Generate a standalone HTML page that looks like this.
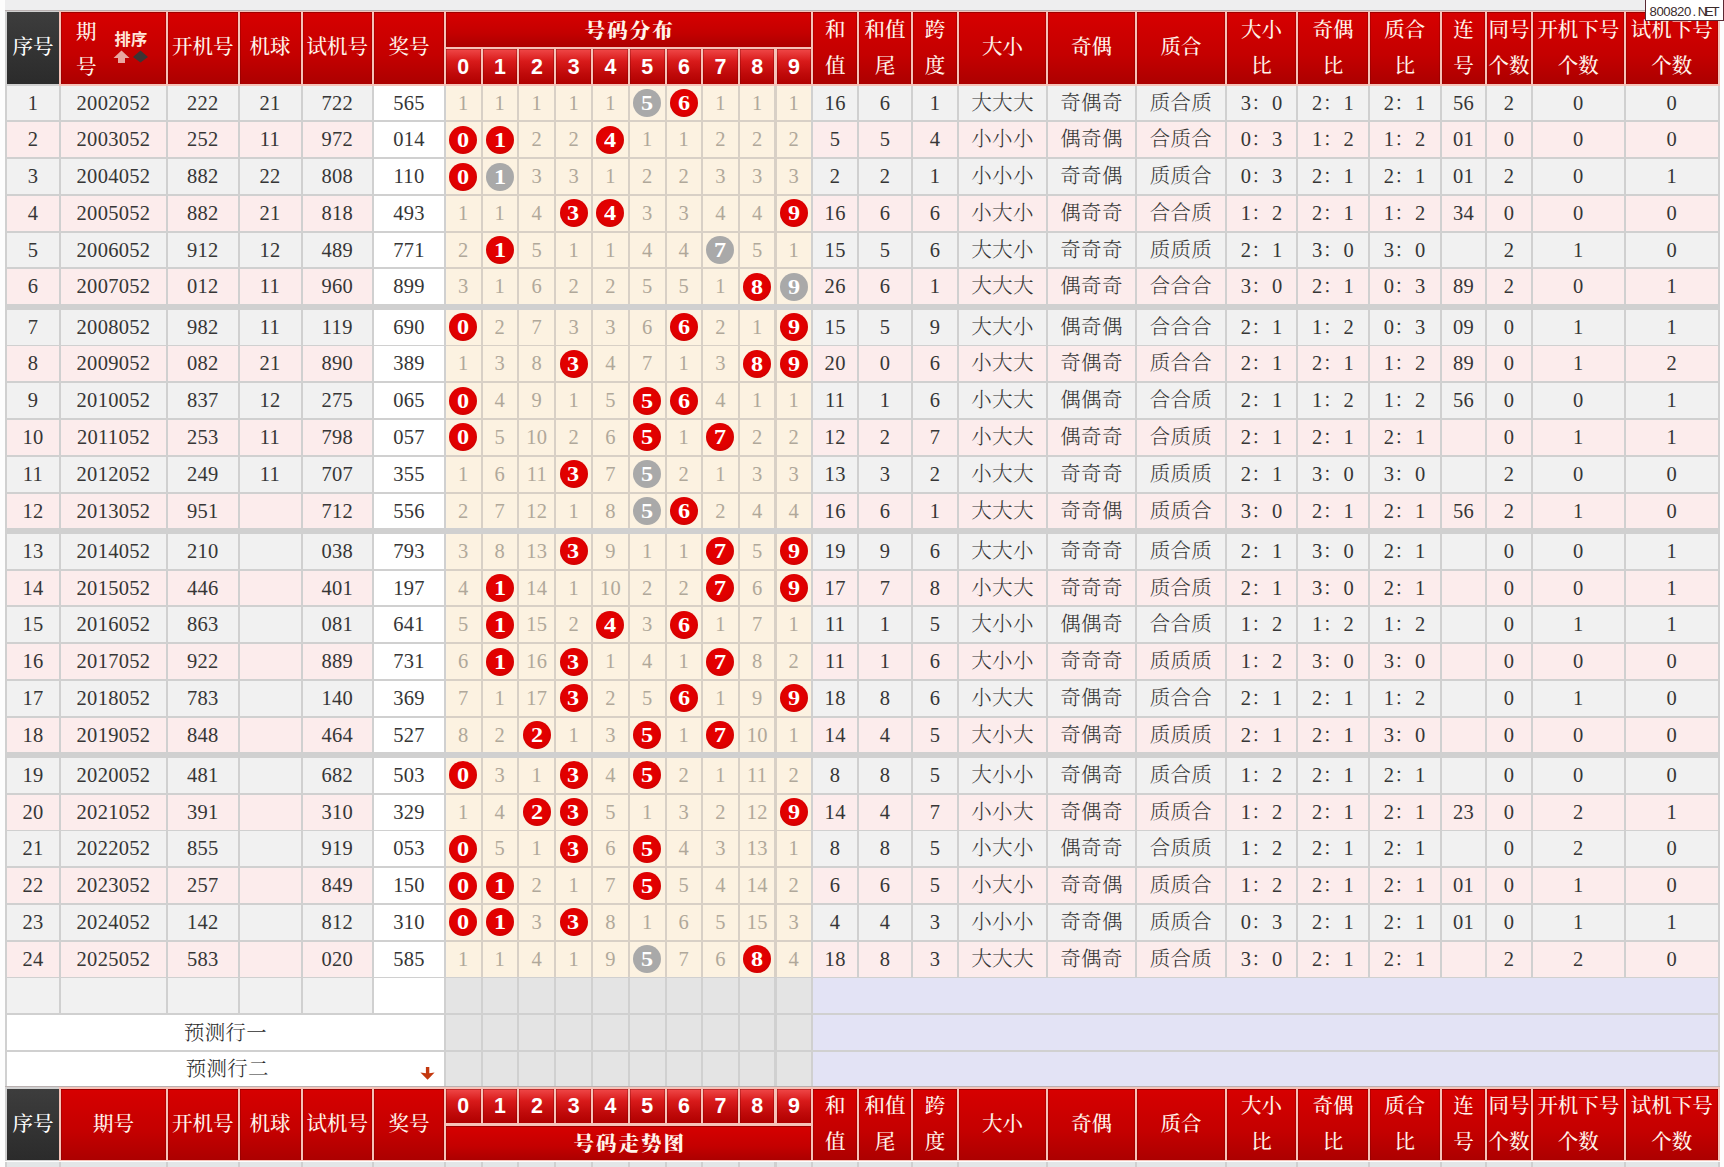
<!DOCTYPE html>
<html><head><meta charset="utf-8"><title>号码走势图</title><style>
*{margin:0;padding:0;box-sizing:border-box}
html,body{width:1724px;height:1167px;overflow:hidden;background:#fdfdfd}
body{position:relative;font-family:"Liberation Serif","Noto Serif CJK SC",serif}
div{position:absolute;text-align:center;white-space:nowrap;overflow:hidden}
.topband{left:5px;top:0;width:1719px;height:10px;background:#eeeeef}
.gline{background:#d0d0d0}
.tline{background:#b9b0b0}
.hbg{background:#f6c2b8}
.gbg{background:#d0d0d0}
.warm{background:#d8d0c6}
.bot{background:#e3e6e7}
.hk{background:linear-gradient(#3d3d3d,#2b2b2b);color:#fff;font-size:20.5px;font-weight:500}
.hr{box-shadow:inset 0 1px 0 rgba(110,0,0,.55),inset 1px 0 0 rgba(110,0,0,.3),inset -1px 0 0 rgba(110,0,0,.3);background:linear-gradient(#d70000 0%,#c40000 60%,#ac0000 100%);color:#fff3ea;font-size:20.5px;font-weight:500}
.hb{font-weight:900;font-size:20.5px;letter-spacing:2px;padding-top:2px;padding-left:2px}
.two{display:flex;flex-direction:column;justify-content:center;align-items:center}
.hl{display:block;line-height:36px;height:36px}
.hn{box-shadow:inset 0 1px 0 rgba(110,0,0,.35),inset 1px 0 0 rgba(110,0,0,.3),inset -1px 0 0 rgba(110,0,0,.3);background:linear-gradient(#f04848 0%,#d81a1a 35%,#c00a0a 70%,#b00000 100%);color:#fff;font-family:"Liberation Sans",sans-serif;font-weight:bold;font-size:21.4px}
.c{color:#363636;font-size:20.5px;letter-spacing:0.3px;font-weight:300}
.ro{background:#f1f1f1}
.re{background:#fcecec}
.rw{background:#ffffff}
.rd{background:#fcf2e1}
.miss{color:#b0a89a}
.eg{background:#e4e4e4}
.lav{background:#e3e3f5}
.pred{color:#2c2c2c;padding-top:1.3px}
.ball{position:absolute;left:50%;top:50%;width:28px;height:28px;margin:-14px 0 0 -14px;border-radius:50%;line-height:28px;color:#fff;font-weight:bold;font-size:20.5px}
.ball b{display:inline-block;transform:scaleX(1.18)}
.red{background:radial-gradient(circle at 48% 45%,#e80000 0%,#df0000 55%,#c80000 85%,#b80000 100%)}
.gry{background:#a9a9a9}
.qi1{position:absolute;left:15px;top:8px;line-height:24px;font-size:20.5px}
.qi2{position:absolute;left:15px;top:43px;line-height:24px;font-size:20.5px}
.px{position:absolute;left:53.5px;top:16.5px;line-height:20px;font-size:16.3px;font-weight:bold;color:#ffe6da;font-family:"Liberation Sans","Noto Sans CJK SC",sans-serif;letter-spacing:0.3px}
.arr{position:absolute;left:52px;top:38px}
.darr{position:absolute}
.wm{left:1645px;top:-1px;width:79px;height:22px;background:#fff;border:1px solid #5a2a34;font-family:"Liberation Sans",sans-serif;font-size:13.2px;line-height:20px;color:#3a2a2a;text-align:left;padding-left:3.5px;padding-top:2px}
.wm i{display:inline-block;width:6.9px;text-align:center;font-style:normal}
</style></head>
<body><div class="topband"></div>
<div class="hbg" style="left:5px;top:10px;width:1715px;height:75.6px"></div>
<div class="gline" style="left:5px;top:10px;width:54px;height:75.6px"></div>
<div class="tline" style="left:5px;top:10px;width:1715px;height:1px"></div>
<div class="hk" style="left:7.00px;top:12.00px;width:52.00px;height:71.60px;line-height:71.60px;">序号</div>
<div class="hr" style="left:61.00px;top:12.00px;width:105.00px;height:71.60px;"><span class="qi1">期</span><span class="qi2">号</span><span class="px">排序</span><svg class="arr" width="38" height="14" viewBox="0 0 38 14"><path d="M8.5 0.5 L16.5 8 L12 8 L12 13 L5 13 L5 8 L0.5 8 Z" fill="#e8a6a0"/><path d="M27.5 0.5 L35 7 L27.5 12.5 L20 7 Z" fill="#3c3434"/></svg></div>
<div class="hr" style="left:168.00px;top:12.00px;width:69.50px;height:71.60px;line-height:71.60px;">开机号</div>
<div class="hr" style="left:239.50px;top:12.00px;width:61.00px;height:71.60px;line-height:71.60px;">机球</div>
<div class="hr" style="left:302.50px;top:12.00px;width:69.50px;height:71.60px;line-height:71.60px;">试机号</div>
<div class="hr" style="left:374.00px;top:12.00px;width:70.00px;height:71.60px;line-height:71.60px;">奖号</div>
<div class="hr two" style="left:813.30px;top:12.00px;width:43.70px;height:71.60px;"><span class="hl">和</span><span class="hl">值</span></div>
<div class="hr two" style="left:859.00px;top:12.00px;width:52.20px;height:71.60px;"><span class="hl">和值</span><span class="hl">尾</span></div>
<div class="hr two" style="left:913.20px;top:12.00px;width:43.80px;height:71.60px;"><span class="hl">跨</span><span class="hl">度</span></div>
<div class="hr" style="left:959.00px;top:12.00px;width:87.00px;height:71.60px;line-height:71.60px;">大小</div>
<div class="hr" style="left:1048.00px;top:12.00px;width:87.00px;height:71.60px;line-height:71.60px;">奇偶</div>
<div class="hr" style="left:1137.00px;top:12.00px;width:87.80px;height:71.60px;line-height:71.60px;">质合</div>
<div class="hr two" style="left:1226.80px;top:12.00px;width:69.60px;height:71.60px;"><span class="hl">大小</span><span class="hl">比</span></div>
<div class="hr two" style="left:1298.40px;top:12.00px;width:69.30px;height:71.60px;"><span class="hl">奇偶</span><span class="hl">比</span></div>
<div class="hr two" style="left:1369.70px;top:12.00px;width:70.00px;height:71.60px;"><span class="hl">质合</span><span class="hl">比</span></div>
<div class="hr two" style="left:1441.70px;top:12.00px;width:43.60px;height:71.60px;"><span class="hl">连</span><span class="hl">号</span></div>
<div class="hr two" style="left:1487.30px;top:12.00px;width:43.60px;height:71.60px;"><span class="hl">同号</span><span class="hl">个数</span></div>
<div class="hr two" style="left:1532.90px;top:12.00px;width:90.80px;height:71.60px;"><span class="hl">开机下号</span><span class="hl">个数</span></div>
<div class="hr two" style="left:1625.70px;top:12.00px;width:92.30px;height:71.60px;"><span class="hl">试机下号</span><span class="hl">个数</span></div>
<div class="hr hb" style="left:446.00px;top:12.00px;width:365.30px;height:34.70px;line-height:34.70px;">号码分布</div>
<div class="hn" style="left:446.00px;top:49.30px;width:34.50px;height:34.30px;line-height:34.30px;padding-top:1px">0</div>
<div class="hn" style="left:482.50px;top:49.30px;width:34.80px;height:34.30px;line-height:34.30px;padding-top:1px">1</div>
<div class="hn" style="left:519.30px;top:49.30px;width:35.10px;height:34.30px;line-height:34.30px;padding-top:1px">2</div>
<div class="hn" style="left:556.40px;top:49.30px;width:34.60px;height:34.30px;line-height:34.30px;padding-top:1px">3</div>
<div class="hn" style="left:593.00px;top:49.30px;width:34.90px;height:34.30px;line-height:34.30px;padding-top:1px">4</div>
<div class="hn" style="left:629.90px;top:49.30px;width:34.70px;height:34.30px;line-height:34.30px;padding-top:1px">5</div>
<div class="hn" style="left:666.60px;top:49.30px;width:34.50px;height:34.30px;line-height:34.30px;padding-top:1px">6</div>
<div class="hn" style="left:703.10px;top:49.30px;width:34.80px;height:34.30px;line-height:34.30px;padding-top:1px">7</div>
<div class="hn" style="left:739.90px;top:49.30px;width:34.60px;height:34.30px;line-height:34.30px;padding-top:1px">8</div>
<div class="hn" style="left:776.50px;top:49.30px;width:34.80px;height:34.30px;line-height:34.30px;padding-top:1px">9</div>
<div class="gbg" style="left:5px;top:85.6px;width:1715px;height:1003.40px"></div>
<div class="warm" style="left:446.00px;top:85.60px;width:365.30px;height:218.65px"></div>
<div class="warm" style="left:446.00px;top:309.70px;width:365.30px;height:218.65px"></div>
<div class="warm" style="left:446.00px;top:533.80px;width:365.30px;height:218.65px"></div>
<div class="warm" style="left:446.00px;top:757.90px;width:365.30px;height:218.65px"></div>
<div class="c ro" style="left:7.00px;top:85.60px;width:52.00px;height:34.85px;line-height:34.85px;">1</div>
<div class="c ro" style="left:61.00px;top:85.60px;width:105.00px;height:34.85px;line-height:34.85px;">2002052</div>
<div class="c ro" style="left:168.00px;top:85.60px;width:69.50px;height:34.85px;line-height:34.85px;">222</div>
<div class="c ro" style="left:239.50px;top:85.60px;width:61.00px;height:34.85px;line-height:34.85px;">21</div>
<div class="c ro" style="left:302.50px;top:85.60px;width:69.50px;height:34.85px;line-height:34.85px;">722</div>
<div class="c rw" style="left:374.00px;top:85.60px;width:70.00px;height:34.85px;line-height:34.85px;">565</div>
<div class="c rd miss" style="left:446.00px;top:85.60px;width:34.50px;height:34.85px;line-height:34.85px;">1</div>
<div class="c rd miss" style="left:482.50px;top:85.60px;width:34.80px;height:34.85px;line-height:34.85px;">1</div>
<div class="c rd miss" style="left:519.30px;top:85.60px;width:35.10px;height:34.85px;line-height:34.85px;">1</div>
<div class="c rd miss" style="left:556.40px;top:85.60px;width:34.60px;height:34.85px;line-height:34.85px;">1</div>
<div class="c rd miss" style="left:593.00px;top:85.60px;width:34.90px;height:34.85px;line-height:34.85px;">1</div>
<div class="c rd" style="left:629.90px;top:85.60px;width:34.70px;height:34.85px;line-height:34.85px;"><span class="ball gry"><b>5</b></span></div>
<div class="c rd" style="left:666.60px;top:85.60px;width:34.50px;height:34.85px;line-height:34.85px;"><span class="ball red"><b>6</b></span></div>
<div class="c rd miss" style="left:703.10px;top:85.60px;width:34.80px;height:34.85px;line-height:34.85px;">1</div>
<div class="c rd miss" style="left:739.90px;top:85.60px;width:34.60px;height:34.85px;line-height:34.85px;">1</div>
<div class="c rd miss" style="left:776.50px;top:85.60px;width:34.80px;height:34.85px;line-height:34.85px;">1</div>
<div class="c ro" style="left:813.30px;top:85.60px;width:43.70px;height:34.85px;line-height:34.85px;">16</div>
<div class="c ro" style="left:859.00px;top:85.60px;width:52.20px;height:34.85px;line-height:34.85px;">6</div>
<div class="c ro" style="left:913.20px;top:85.60px;width:43.80px;height:34.85px;line-height:34.85px;">1</div>
<div class="c ro" style="left:959.00px;top:85.60px;width:87.00px;height:34.85px;line-height:34.85px;">大大大</div>
<div class="c ro" style="left:1048.00px;top:85.60px;width:87.00px;height:34.85px;line-height:34.85px;">奇偶奇</div>
<div class="c ro" style="left:1137.00px;top:85.60px;width:87.80px;height:34.85px;line-height:34.85px;">质合质</div>
<div class="c ro" style="left:1226.80px;top:85.60px;width:69.60px;height:34.85px;line-height:34.85px;">3：0</div>
<div class="c ro" style="left:1298.40px;top:85.60px;width:69.30px;height:34.85px;line-height:34.85px;">2：1</div>
<div class="c ro" style="left:1369.70px;top:85.60px;width:70.00px;height:34.85px;line-height:34.85px;">2：1</div>
<div class="c ro" style="left:1441.70px;top:85.60px;width:43.60px;height:34.85px;line-height:34.85px;">56</div>
<div class="c ro" style="left:1487.30px;top:85.60px;width:43.60px;height:34.85px;line-height:34.85px;">2</div>
<div class="c ro" style="left:1532.90px;top:85.60px;width:90.80px;height:34.85px;line-height:34.85px;">0</div>
<div class="c ro" style="left:1625.70px;top:85.60px;width:92.30px;height:34.85px;line-height:34.85px;">0</div>
<div class="c re" style="left:7.00px;top:122.36px;width:52.00px;height:34.85px;line-height:34.85px;">2</div>
<div class="c re" style="left:61.00px;top:122.36px;width:105.00px;height:34.85px;line-height:34.85px;">2003052</div>
<div class="c re" style="left:168.00px;top:122.36px;width:69.50px;height:34.85px;line-height:34.85px;">252</div>
<div class="c re" style="left:239.50px;top:122.36px;width:61.00px;height:34.85px;line-height:34.85px;">11</div>
<div class="c re" style="left:302.50px;top:122.36px;width:69.50px;height:34.85px;line-height:34.85px;">972</div>
<div class="c rw" style="left:374.00px;top:122.36px;width:70.00px;height:34.85px;line-height:34.85px;">014</div>
<div class="c rd" style="left:446.00px;top:122.36px;width:34.50px;height:34.85px;line-height:34.85px;"><span class="ball red"><b>0</b></span></div>
<div class="c rd" style="left:482.50px;top:122.36px;width:34.80px;height:34.85px;line-height:34.85px;"><span class="ball red"><b>1</b></span></div>
<div class="c rd miss" style="left:519.30px;top:122.36px;width:35.10px;height:34.85px;line-height:34.85px;">2</div>
<div class="c rd miss" style="left:556.40px;top:122.36px;width:34.60px;height:34.85px;line-height:34.85px;">2</div>
<div class="c rd" style="left:593.00px;top:122.36px;width:34.90px;height:34.85px;line-height:34.85px;"><span class="ball red"><b>4</b></span></div>
<div class="c rd miss" style="left:629.90px;top:122.36px;width:34.70px;height:34.85px;line-height:34.85px;">1</div>
<div class="c rd miss" style="left:666.60px;top:122.36px;width:34.50px;height:34.85px;line-height:34.85px;">1</div>
<div class="c rd miss" style="left:703.10px;top:122.36px;width:34.80px;height:34.85px;line-height:34.85px;">2</div>
<div class="c rd miss" style="left:739.90px;top:122.36px;width:34.60px;height:34.85px;line-height:34.85px;">2</div>
<div class="c rd miss" style="left:776.50px;top:122.36px;width:34.80px;height:34.85px;line-height:34.85px;">2</div>
<div class="c re" style="left:813.30px;top:122.36px;width:43.70px;height:34.85px;line-height:34.85px;">5</div>
<div class="c re" style="left:859.00px;top:122.36px;width:52.20px;height:34.85px;line-height:34.85px;">5</div>
<div class="c re" style="left:913.20px;top:122.36px;width:43.80px;height:34.85px;line-height:34.85px;">4</div>
<div class="c re" style="left:959.00px;top:122.36px;width:87.00px;height:34.85px;line-height:34.85px;">小小小</div>
<div class="c re" style="left:1048.00px;top:122.36px;width:87.00px;height:34.85px;line-height:34.85px;">偶奇偶</div>
<div class="c re" style="left:1137.00px;top:122.36px;width:87.80px;height:34.85px;line-height:34.85px;">合质合</div>
<div class="c re" style="left:1226.80px;top:122.36px;width:69.60px;height:34.85px;line-height:34.85px;">0：3</div>
<div class="c re" style="left:1298.40px;top:122.36px;width:69.30px;height:34.85px;line-height:34.85px;">1：2</div>
<div class="c re" style="left:1369.70px;top:122.36px;width:70.00px;height:34.85px;line-height:34.85px;">1：2</div>
<div class="c re" style="left:1441.70px;top:122.36px;width:43.60px;height:34.85px;line-height:34.85px;">01</div>
<div class="c re" style="left:1487.30px;top:122.36px;width:43.60px;height:34.85px;line-height:34.85px;">0</div>
<div class="c re" style="left:1532.90px;top:122.36px;width:90.80px;height:34.85px;line-height:34.85px;">0</div>
<div class="c re" style="left:1625.70px;top:122.36px;width:92.30px;height:34.85px;line-height:34.85px;">0</div>
<div class="c ro" style="left:7.00px;top:159.12px;width:52.00px;height:34.85px;line-height:34.85px;">3</div>
<div class="c ro" style="left:61.00px;top:159.12px;width:105.00px;height:34.85px;line-height:34.85px;">2004052</div>
<div class="c ro" style="left:168.00px;top:159.12px;width:69.50px;height:34.85px;line-height:34.85px;">882</div>
<div class="c ro" style="left:239.50px;top:159.12px;width:61.00px;height:34.85px;line-height:34.85px;">22</div>
<div class="c ro" style="left:302.50px;top:159.12px;width:69.50px;height:34.85px;line-height:34.85px;">808</div>
<div class="c rw" style="left:374.00px;top:159.12px;width:70.00px;height:34.85px;line-height:34.85px;">110</div>
<div class="c rd" style="left:446.00px;top:159.12px;width:34.50px;height:34.85px;line-height:34.85px;"><span class="ball red"><b>0</b></span></div>
<div class="c rd" style="left:482.50px;top:159.12px;width:34.80px;height:34.85px;line-height:34.85px;"><span class="ball gry"><b>1</b></span></div>
<div class="c rd miss" style="left:519.30px;top:159.12px;width:35.10px;height:34.85px;line-height:34.85px;">3</div>
<div class="c rd miss" style="left:556.40px;top:159.12px;width:34.60px;height:34.85px;line-height:34.85px;">3</div>
<div class="c rd miss" style="left:593.00px;top:159.12px;width:34.90px;height:34.85px;line-height:34.85px;">1</div>
<div class="c rd miss" style="left:629.90px;top:159.12px;width:34.70px;height:34.85px;line-height:34.85px;">2</div>
<div class="c rd miss" style="left:666.60px;top:159.12px;width:34.50px;height:34.85px;line-height:34.85px;">2</div>
<div class="c rd miss" style="left:703.10px;top:159.12px;width:34.80px;height:34.85px;line-height:34.85px;">3</div>
<div class="c rd miss" style="left:739.90px;top:159.12px;width:34.60px;height:34.85px;line-height:34.85px;">3</div>
<div class="c rd miss" style="left:776.50px;top:159.12px;width:34.80px;height:34.85px;line-height:34.85px;">3</div>
<div class="c ro" style="left:813.30px;top:159.12px;width:43.70px;height:34.85px;line-height:34.85px;">2</div>
<div class="c ro" style="left:859.00px;top:159.12px;width:52.20px;height:34.85px;line-height:34.85px;">2</div>
<div class="c ro" style="left:913.20px;top:159.12px;width:43.80px;height:34.85px;line-height:34.85px;">1</div>
<div class="c ro" style="left:959.00px;top:159.12px;width:87.00px;height:34.85px;line-height:34.85px;">小小小</div>
<div class="c ro" style="left:1048.00px;top:159.12px;width:87.00px;height:34.85px;line-height:34.85px;">奇奇偶</div>
<div class="c ro" style="left:1137.00px;top:159.12px;width:87.80px;height:34.85px;line-height:34.85px;">质质合</div>
<div class="c ro" style="left:1226.80px;top:159.12px;width:69.60px;height:34.85px;line-height:34.85px;">0：3</div>
<div class="c ro" style="left:1298.40px;top:159.12px;width:69.30px;height:34.85px;line-height:34.85px;">2：1</div>
<div class="c ro" style="left:1369.70px;top:159.12px;width:70.00px;height:34.85px;line-height:34.85px;">2：1</div>
<div class="c ro" style="left:1441.70px;top:159.12px;width:43.60px;height:34.85px;line-height:34.85px;">01</div>
<div class="c ro" style="left:1487.30px;top:159.12px;width:43.60px;height:34.85px;line-height:34.85px;">2</div>
<div class="c ro" style="left:1532.90px;top:159.12px;width:90.80px;height:34.85px;line-height:34.85px;">0</div>
<div class="c ro" style="left:1625.70px;top:159.12px;width:92.30px;height:34.85px;line-height:34.85px;">1</div>
<div class="c re" style="left:7.00px;top:195.88px;width:52.00px;height:34.85px;line-height:34.85px;">4</div>
<div class="c re" style="left:61.00px;top:195.88px;width:105.00px;height:34.85px;line-height:34.85px;">2005052</div>
<div class="c re" style="left:168.00px;top:195.88px;width:69.50px;height:34.85px;line-height:34.85px;">882</div>
<div class="c re" style="left:239.50px;top:195.88px;width:61.00px;height:34.85px;line-height:34.85px;">21</div>
<div class="c re" style="left:302.50px;top:195.88px;width:69.50px;height:34.85px;line-height:34.85px;">818</div>
<div class="c rw" style="left:374.00px;top:195.88px;width:70.00px;height:34.85px;line-height:34.85px;">493</div>
<div class="c rd miss" style="left:446.00px;top:195.88px;width:34.50px;height:34.85px;line-height:34.85px;">1</div>
<div class="c rd miss" style="left:482.50px;top:195.88px;width:34.80px;height:34.85px;line-height:34.85px;">1</div>
<div class="c rd miss" style="left:519.30px;top:195.88px;width:35.10px;height:34.85px;line-height:34.85px;">4</div>
<div class="c rd" style="left:556.40px;top:195.88px;width:34.60px;height:34.85px;line-height:34.85px;"><span class="ball red"><b>3</b></span></div>
<div class="c rd" style="left:593.00px;top:195.88px;width:34.90px;height:34.85px;line-height:34.85px;"><span class="ball red"><b>4</b></span></div>
<div class="c rd miss" style="left:629.90px;top:195.88px;width:34.70px;height:34.85px;line-height:34.85px;">3</div>
<div class="c rd miss" style="left:666.60px;top:195.88px;width:34.50px;height:34.85px;line-height:34.85px;">3</div>
<div class="c rd miss" style="left:703.10px;top:195.88px;width:34.80px;height:34.85px;line-height:34.85px;">4</div>
<div class="c rd miss" style="left:739.90px;top:195.88px;width:34.60px;height:34.85px;line-height:34.85px;">4</div>
<div class="c rd" style="left:776.50px;top:195.88px;width:34.80px;height:34.85px;line-height:34.85px;"><span class="ball red"><b>9</b></span></div>
<div class="c re" style="left:813.30px;top:195.88px;width:43.70px;height:34.85px;line-height:34.85px;">16</div>
<div class="c re" style="left:859.00px;top:195.88px;width:52.20px;height:34.85px;line-height:34.85px;">6</div>
<div class="c re" style="left:913.20px;top:195.88px;width:43.80px;height:34.85px;line-height:34.85px;">6</div>
<div class="c re" style="left:959.00px;top:195.88px;width:87.00px;height:34.85px;line-height:34.85px;">小大小</div>
<div class="c re" style="left:1048.00px;top:195.88px;width:87.00px;height:34.85px;line-height:34.85px;">偶奇奇</div>
<div class="c re" style="left:1137.00px;top:195.88px;width:87.80px;height:34.85px;line-height:34.85px;">合合质</div>
<div class="c re" style="left:1226.80px;top:195.88px;width:69.60px;height:34.85px;line-height:34.85px;">1：2</div>
<div class="c re" style="left:1298.40px;top:195.88px;width:69.30px;height:34.85px;line-height:34.85px;">2：1</div>
<div class="c re" style="left:1369.70px;top:195.88px;width:70.00px;height:34.85px;line-height:34.85px;">1：2</div>
<div class="c re" style="left:1441.70px;top:195.88px;width:43.60px;height:34.85px;line-height:34.85px;">34</div>
<div class="c re" style="left:1487.30px;top:195.88px;width:43.60px;height:34.85px;line-height:34.85px;">0</div>
<div class="c re" style="left:1532.90px;top:195.88px;width:90.80px;height:34.85px;line-height:34.85px;">0</div>
<div class="c re" style="left:1625.70px;top:195.88px;width:92.30px;height:34.85px;line-height:34.85px;">0</div>
<div class="c ro" style="left:7.00px;top:232.64px;width:52.00px;height:34.85px;line-height:34.85px;">5</div>
<div class="c ro" style="left:61.00px;top:232.64px;width:105.00px;height:34.85px;line-height:34.85px;">2006052</div>
<div class="c ro" style="left:168.00px;top:232.64px;width:69.50px;height:34.85px;line-height:34.85px;">912</div>
<div class="c ro" style="left:239.50px;top:232.64px;width:61.00px;height:34.85px;line-height:34.85px;">12</div>
<div class="c ro" style="left:302.50px;top:232.64px;width:69.50px;height:34.85px;line-height:34.85px;">489</div>
<div class="c rw" style="left:374.00px;top:232.64px;width:70.00px;height:34.85px;line-height:34.85px;">771</div>
<div class="c rd miss" style="left:446.00px;top:232.64px;width:34.50px;height:34.85px;line-height:34.85px;">2</div>
<div class="c rd" style="left:482.50px;top:232.64px;width:34.80px;height:34.85px;line-height:34.85px;"><span class="ball red"><b>1</b></span></div>
<div class="c rd miss" style="left:519.30px;top:232.64px;width:35.10px;height:34.85px;line-height:34.85px;">5</div>
<div class="c rd miss" style="left:556.40px;top:232.64px;width:34.60px;height:34.85px;line-height:34.85px;">1</div>
<div class="c rd miss" style="left:593.00px;top:232.64px;width:34.90px;height:34.85px;line-height:34.85px;">1</div>
<div class="c rd miss" style="left:629.90px;top:232.64px;width:34.70px;height:34.85px;line-height:34.85px;">4</div>
<div class="c rd miss" style="left:666.60px;top:232.64px;width:34.50px;height:34.85px;line-height:34.85px;">4</div>
<div class="c rd" style="left:703.10px;top:232.64px;width:34.80px;height:34.85px;line-height:34.85px;"><span class="ball gry"><b>7</b></span></div>
<div class="c rd miss" style="left:739.90px;top:232.64px;width:34.60px;height:34.85px;line-height:34.85px;">5</div>
<div class="c rd miss" style="left:776.50px;top:232.64px;width:34.80px;height:34.85px;line-height:34.85px;">1</div>
<div class="c ro" style="left:813.30px;top:232.64px;width:43.70px;height:34.85px;line-height:34.85px;">15</div>
<div class="c ro" style="left:859.00px;top:232.64px;width:52.20px;height:34.85px;line-height:34.85px;">5</div>
<div class="c ro" style="left:913.20px;top:232.64px;width:43.80px;height:34.85px;line-height:34.85px;">6</div>
<div class="c ro" style="left:959.00px;top:232.64px;width:87.00px;height:34.85px;line-height:34.85px;">大大小</div>
<div class="c ro" style="left:1048.00px;top:232.64px;width:87.00px;height:34.85px;line-height:34.85px;">奇奇奇</div>
<div class="c ro" style="left:1137.00px;top:232.64px;width:87.80px;height:34.85px;line-height:34.85px;">质质质</div>
<div class="c ro" style="left:1226.80px;top:232.64px;width:69.60px;height:34.85px;line-height:34.85px;">2：1</div>
<div class="c ro" style="left:1298.40px;top:232.64px;width:69.30px;height:34.85px;line-height:34.85px;">3：0</div>
<div class="c ro" style="left:1369.70px;top:232.64px;width:70.00px;height:34.85px;line-height:34.85px;">3：0</div>
<div class="c ro" style="left:1441.70px;top:232.64px;width:43.60px;height:34.85px;line-height:34.85px;"></div>
<div class="c ro" style="left:1487.30px;top:232.64px;width:43.60px;height:34.85px;line-height:34.85px;">2</div>
<div class="c ro" style="left:1532.90px;top:232.64px;width:90.80px;height:34.85px;line-height:34.85px;">1</div>
<div class="c ro" style="left:1625.70px;top:232.64px;width:92.30px;height:34.85px;line-height:34.85px;">0</div>
<div class="c re" style="left:7.00px;top:269.40px;width:52.00px;height:34.85px;line-height:34.85px;">6</div>
<div class="c re" style="left:61.00px;top:269.40px;width:105.00px;height:34.85px;line-height:34.85px;">2007052</div>
<div class="c re" style="left:168.00px;top:269.40px;width:69.50px;height:34.85px;line-height:34.85px;">012</div>
<div class="c re" style="left:239.50px;top:269.40px;width:61.00px;height:34.85px;line-height:34.85px;">11</div>
<div class="c re" style="left:302.50px;top:269.40px;width:69.50px;height:34.85px;line-height:34.85px;">960</div>
<div class="c rw" style="left:374.00px;top:269.40px;width:70.00px;height:34.85px;line-height:34.85px;">899</div>
<div class="c rd miss" style="left:446.00px;top:269.40px;width:34.50px;height:34.85px;line-height:34.85px;">3</div>
<div class="c rd miss" style="left:482.50px;top:269.40px;width:34.80px;height:34.85px;line-height:34.85px;">1</div>
<div class="c rd miss" style="left:519.30px;top:269.40px;width:35.10px;height:34.85px;line-height:34.85px;">6</div>
<div class="c rd miss" style="left:556.40px;top:269.40px;width:34.60px;height:34.85px;line-height:34.85px;">2</div>
<div class="c rd miss" style="left:593.00px;top:269.40px;width:34.90px;height:34.85px;line-height:34.85px;">2</div>
<div class="c rd miss" style="left:629.90px;top:269.40px;width:34.70px;height:34.85px;line-height:34.85px;">5</div>
<div class="c rd miss" style="left:666.60px;top:269.40px;width:34.50px;height:34.85px;line-height:34.85px;">5</div>
<div class="c rd miss" style="left:703.10px;top:269.40px;width:34.80px;height:34.85px;line-height:34.85px;">1</div>
<div class="c rd" style="left:739.90px;top:269.40px;width:34.60px;height:34.85px;line-height:34.85px;"><span class="ball red"><b>8</b></span></div>
<div class="c rd" style="left:776.50px;top:269.40px;width:34.80px;height:34.85px;line-height:34.85px;"><span class="ball gry"><b>9</b></span></div>
<div class="c re" style="left:813.30px;top:269.40px;width:43.70px;height:34.85px;line-height:34.85px;">26</div>
<div class="c re" style="left:859.00px;top:269.40px;width:52.20px;height:34.85px;line-height:34.85px;">6</div>
<div class="c re" style="left:913.20px;top:269.40px;width:43.80px;height:34.85px;line-height:34.85px;">1</div>
<div class="c re" style="left:959.00px;top:269.40px;width:87.00px;height:34.85px;line-height:34.85px;">大大大</div>
<div class="c re" style="left:1048.00px;top:269.40px;width:87.00px;height:34.85px;line-height:34.85px;">偶奇奇</div>
<div class="c re" style="left:1137.00px;top:269.40px;width:87.80px;height:34.85px;line-height:34.85px;">合合合</div>
<div class="c re" style="left:1226.80px;top:269.40px;width:69.60px;height:34.85px;line-height:34.85px;">3：0</div>
<div class="c re" style="left:1298.40px;top:269.40px;width:69.30px;height:34.85px;line-height:34.85px;">2：1</div>
<div class="c re" style="left:1369.70px;top:269.40px;width:70.00px;height:34.85px;line-height:34.85px;">0：3</div>
<div class="c re" style="left:1441.70px;top:269.40px;width:43.60px;height:34.85px;line-height:34.85px;">89</div>
<div class="c re" style="left:1487.30px;top:269.40px;width:43.60px;height:34.85px;line-height:34.85px;">2</div>
<div class="c re" style="left:1532.90px;top:269.40px;width:90.80px;height:34.85px;line-height:34.85px;">0</div>
<div class="c re" style="left:1625.70px;top:269.40px;width:92.30px;height:34.85px;line-height:34.85px;">1</div>
<div class="c ro" style="left:7.00px;top:309.70px;width:52.00px;height:34.85px;line-height:34.85px;">7</div>
<div class="c ro" style="left:61.00px;top:309.70px;width:105.00px;height:34.85px;line-height:34.85px;">2008052</div>
<div class="c ro" style="left:168.00px;top:309.70px;width:69.50px;height:34.85px;line-height:34.85px;">982</div>
<div class="c ro" style="left:239.50px;top:309.70px;width:61.00px;height:34.85px;line-height:34.85px;">11</div>
<div class="c ro" style="left:302.50px;top:309.70px;width:69.50px;height:34.85px;line-height:34.85px;">119</div>
<div class="c rw" style="left:374.00px;top:309.70px;width:70.00px;height:34.85px;line-height:34.85px;">690</div>
<div class="c rd" style="left:446.00px;top:309.70px;width:34.50px;height:34.85px;line-height:34.85px;"><span class="ball red"><b>0</b></span></div>
<div class="c rd miss" style="left:482.50px;top:309.70px;width:34.80px;height:34.85px;line-height:34.85px;">2</div>
<div class="c rd miss" style="left:519.30px;top:309.70px;width:35.10px;height:34.85px;line-height:34.85px;">7</div>
<div class="c rd miss" style="left:556.40px;top:309.70px;width:34.60px;height:34.85px;line-height:34.85px;">3</div>
<div class="c rd miss" style="left:593.00px;top:309.70px;width:34.90px;height:34.85px;line-height:34.85px;">3</div>
<div class="c rd miss" style="left:629.90px;top:309.70px;width:34.70px;height:34.85px;line-height:34.85px;">6</div>
<div class="c rd" style="left:666.60px;top:309.70px;width:34.50px;height:34.85px;line-height:34.85px;"><span class="ball red"><b>6</b></span></div>
<div class="c rd miss" style="left:703.10px;top:309.70px;width:34.80px;height:34.85px;line-height:34.85px;">2</div>
<div class="c rd miss" style="left:739.90px;top:309.70px;width:34.60px;height:34.85px;line-height:34.85px;">1</div>
<div class="c rd" style="left:776.50px;top:309.70px;width:34.80px;height:34.85px;line-height:34.85px;"><span class="ball red"><b>9</b></span></div>
<div class="c ro" style="left:813.30px;top:309.70px;width:43.70px;height:34.85px;line-height:34.85px;">15</div>
<div class="c ro" style="left:859.00px;top:309.70px;width:52.20px;height:34.85px;line-height:34.85px;">5</div>
<div class="c ro" style="left:913.20px;top:309.70px;width:43.80px;height:34.85px;line-height:34.85px;">9</div>
<div class="c ro" style="left:959.00px;top:309.70px;width:87.00px;height:34.85px;line-height:34.85px;">大大小</div>
<div class="c ro" style="left:1048.00px;top:309.70px;width:87.00px;height:34.85px;line-height:34.85px;">偶奇偶</div>
<div class="c ro" style="left:1137.00px;top:309.70px;width:87.80px;height:34.85px;line-height:34.85px;">合合合</div>
<div class="c ro" style="left:1226.80px;top:309.70px;width:69.60px;height:34.85px;line-height:34.85px;">2：1</div>
<div class="c ro" style="left:1298.40px;top:309.70px;width:69.30px;height:34.85px;line-height:34.85px;">1：2</div>
<div class="c ro" style="left:1369.70px;top:309.70px;width:70.00px;height:34.85px;line-height:34.85px;">0：3</div>
<div class="c ro" style="left:1441.70px;top:309.70px;width:43.60px;height:34.85px;line-height:34.85px;">09</div>
<div class="c ro" style="left:1487.30px;top:309.70px;width:43.60px;height:34.85px;line-height:34.85px;">0</div>
<div class="c ro" style="left:1532.90px;top:309.70px;width:90.80px;height:34.85px;line-height:34.85px;">1</div>
<div class="c ro" style="left:1625.70px;top:309.70px;width:92.30px;height:34.85px;line-height:34.85px;">1</div>
<div class="c re" style="left:7.00px;top:346.46px;width:52.00px;height:34.85px;line-height:34.85px;">8</div>
<div class="c re" style="left:61.00px;top:346.46px;width:105.00px;height:34.85px;line-height:34.85px;">2009052</div>
<div class="c re" style="left:168.00px;top:346.46px;width:69.50px;height:34.85px;line-height:34.85px;">082</div>
<div class="c re" style="left:239.50px;top:346.46px;width:61.00px;height:34.85px;line-height:34.85px;">21</div>
<div class="c re" style="left:302.50px;top:346.46px;width:69.50px;height:34.85px;line-height:34.85px;">890</div>
<div class="c rw" style="left:374.00px;top:346.46px;width:70.00px;height:34.85px;line-height:34.85px;">389</div>
<div class="c rd miss" style="left:446.00px;top:346.46px;width:34.50px;height:34.85px;line-height:34.85px;">1</div>
<div class="c rd miss" style="left:482.50px;top:346.46px;width:34.80px;height:34.85px;line-height:34.85px;">3</div>
<div class="c rd miss" style="left:519.30px;top:346.46px;width:35.10px;height:34.85px;line-height:34.85px;">8</div>
<div class="c rd" style="left:556.40px;top:346.46px;width:34.60px;height:34.85px;line-height:34.85px;"><span class="ball red"><b>3</b></span></div>
<div class="c rd miss" style="left:593.00px;top:346.46px;width:34.90px;height:34.85px;line-height:34.85px;">4</div>
<div class="c rd miss" style="left:629.90px;top:346.46px;width:34.70px;height:34.85px;line-height:34.85px;">7</div>
<div class="c rd miss" style="left:666.60px;top:346.46px;width:34.50px;height:34.85px;line-height:34.85px;">1</div>
<div class="c rd miss" style="left:703.10px;top:346.46px;width:34.80px;height:34.85px;line-height:34.85px;">3</div>
<div class="c rd" style="left:739.90px;top:346.46px;width:34.60px;height:34.85px;line-height:34.85px;"><span class="ball red"><b>8</b></span></div>
<div class="c rd" style="left:776.50px;top:346.46px;width:34.80px;height:34.85px;line-height:34.85px;"><span class="ball red"><b>9</b></span></div>
<div class="c re" style="left:813.30px;top:346.46px;width:43.70px;height:34.85px;line-height:34.85px;">20</div>
<div class="c re" style="left:859.00px;top:346.46px;width:52.20px;height:34.85px;line-height:34.85px;">0</div>
<div class="c re" style="left:913.20px;top:346.46px;width:43.80px;height:34.85px;line-height:34.85px;">6</div>
<div class="c re" style="left:959.00px;top:346.46px;width:87.00px;height:34.85px;line-height:34.85px;">小大大</div>
<div class="c re" style="left:1048.00px;top:346.46px;width:87.00px;height:34.85px;line-height:34.85px;">奇偶奇</div>
<div class="c re" style="left:1137.00px;top:346.46px;width:87.80px;height:34.85px;line-height:34.85px;">质合合</div>
<div class="c re" style="left:1226.80px;top:346.46px;width:69.60px;height:34.85px;line-height:34.85px;">2：1</div>
<div class="c re" style="left:1298.40px;top:346.46px;width:69.30px;height:34.85px;line-height:34.85px;">2：1</div>
<div class="c re" style="left:1369.70px;top:346.46px;width:70.00px;height:34.85px;line-height:34.85px;">1：2</div>
<div class="c re" style="left:1441.70px;top:346.46px;width:43.60px;height:34.85px;line-height:34.85px;">89</div>
<div class="c re" style="left:1487.30px;top:346.46px;width:43.60px;height:34.85px;line-height:34.85px;">0</div>
<div class="c re" style="left:1532.90px;top:346.46px;width:90.80px;height:34.85px;line-height:34.85px;">1</div>
<div class="c re" style="left:1625.70px;top:346.46px;width:92.30px;height:34.85px;line-height:34.85px;">2</div>
<div class="c ro" style="left:7.00px;top:383.22px;width:52.00px;height:34.85px;line-height:34.85px;">9</div>
<div class="c ro" style="left:61.00px;top:383.22px;width:105.00px;height:34.85px;line-height:34.85px;">2010052</div>
<div class="c ro" style="left:168.00px;top:383.22px;width:69.50px;height:34.85px;line-height:34.85px;">837</div>
<div class="c ro" style="left:239.50px;top:383.22px;width:61.00px;height:34.85px;line-height:34.85px;">12</div>
<div class="c ro" style="left:302.50px;top:383.22px;width:69.50px;height:34.85px;line-height:34.85px;">275</div>
<div class="c rw" style="left:374.00px;top:383.22px;width:70.00px;height:34.85px;line-height:34.85px;">065</div>
<div class="c rd" style="left:446.00px;top:383.22px;width:34.50px;height:34.85px;line-height:34.85px;"><span class="ball red"><b>0</b></span></div>
<div class="c rd miss" style="left:482.50px;top:383.22px;width:34.80px;height:34.85px;line-height:34.85px;">4</div>
<div class="c rd miss" style="left:519.30px;top:383.22px;width:35.10px;height:34.85px;line-height:34.85px;">9</div>
<div class="c rd miss" style="left:556.40px;top:383.22px;width:34.60px;height:34.85px;line-height:34.85px;">1</div>
<div class="c rd miss" style="left:593.00px;top:383.22px;width:34.90px;height:34.85px;line-height:34.85px;">5</div>
<div class="c rd" style="left:629.90px;top:383.22px;width:34.70px;height:34.85px;line-height:34.85px;"><span class="ball red"><b>5</b></span></div>
<div class="c rd" style="left:666.60px;top:383.22px;width:34.50px;height:34.85px;line-height:34.85px;"><span class="ball red"><b>6</b></span></div>
<div class="c rd miss" style="left:703.10px;top:383.22px;width:34.80px;height:34.85px;line-height:34.85px;">4</div>
<div class="c rd miss" style="left:739.90px;top:383.22px;width:34.60px;height:34.85px;line-height:34.85px;">1</div>
<div class="c rd miss" style="left:776.50px;top:383.22px;width:34.80px;height:34.85px;line-height:34.85px;">1</div>
<div class="c ro" style="left:813.30px;top:383.22px;width:43.70px;height:34.85px;line-height:34.85px;">11</div>
<div class="c ro" style="left:859.00px;top:383.22px;width:52.20px;height:34.85px;line-height:34.85px;">1</div>
<div class="c ro" style="left:913.20px;top:383.22px;width:43.80px;height:34.85px;line-height:34.85px;">6</div>
<div class="c ro" style="left:959.00px;top:383.22px;width:87.00px;height:34.85px;line-height:34.85px;">小大大</div>
<div class="c ro" style="left:1048.00px;top:383.22px;width:87.00px;height:34.85px;line-height:34.85px;">偶偶奇</div>
<div class="c ro" style="left:1137.00px;top:383.22px;width:87.80px;height:34.85px;line-height:34.85px;">合合质</div>
<div class="c ro" style="left:1226.80px;top:383.22px;width:69.60px;height:34.85px;line-height:34.85px;">2：1</div>
<div class="c ro" style="left:1298.40px;top:383.22px;width:69.30px;height:34.85px;line-height:34.85px;">1：2</div>
<div class="c ro" style="left:1369.70px;top:383.22px;width:70.00px;height:34.85px;line-height:34.85px;">1：2</div>
<div class="c ro" style="left:1441.70px;top:383.22px;width:43.60px;height:34.85px;line-height:34.85px;">56</div>
<div class="c ro" style="left:1487.30px;top:383.22px;width:43.60px;height:34.85px;line-height:34.85px;">0</div>
<div class="c ro" style="left:1532.90px;top:383.22px;width:90.80px;height:34.85px;line-height:34.85px;">0</div>
<div class="c ro" style="left:1625.70px;top:383.22px;width:92.30px;height:34.85px;line-height:34.85px;">1</div>
<div class="c re" style="left:7.00px;top:419.98px;width:52.00px;height:34.85px;line-height:34.85px;">10</div>
<div class="c re" style="left:61.00px;top:419.98px;width:105.00px;height:34.85px;line-height:34.85px;">2011052</div>
<div class="c re" style="left:168.00px;top:419.98px;width:69.50px;height:34.85px;line-height:34.85px;">253</div>
<div class="c re" style="left:239.50px;top:419.98px;width:61.00px;height:34.85px;line-height:34.85px;">11</div>
<div class="c re" style="left:302.50px;top:419.98px;width:69.50px;height:34.85px;line-height:34.85px;">798</div>
<div class="c rw" style="left:374.00px;top:419.98px;width:70.00px;height:34.85px;line-height:34.85px;">057</div>
<div class="c rd" style="left:446.00px;top:419.98px;width:34.50px;height:34.85px;line-height:34.85px;"><span class="ball red"><b>0</b></span></div>
<div class="c rd miss" style="left:482.50px;top:419.98px;width:34.80px;height:34.85px;line-height:34.85px;">5</div>
<div class="c rd miss" style="left:519.30px;top:419.98px;width:35.10px;height:34.85px;line-height:34.85px;">10</div>
<div class="c rd miss" style="left:556.40px;top:419.98px;width:34.60px;height:34.85px;line-height:34.85px;">2</div>
<div class="c rd miss" style="left:593.00px;top:419.98px;width:34.90px;height:34.85px;line-height:34.85px;">6</div>
<div class="c rd" style="left:629.90px;top:419.98px;width:34.70px;height:34.85px;line-height:34.85px;"><span class="ball red"><b>5</b></span></div>
<div class="c rd miss" style="left:666.60px;top:419.98px;width:34.50px;height:34.85px;line-height:34.85px;">1</div>
<div class="c rd" style="left:703.10px;top:419.98px;width:34.80px;height:34.85px;line-height:34.85px;"><span class="ball red"><b>7</b></span></div>
<div class="c rd miss" style="left:739.90px;top:419.98px;width:34.60px;height:34.85px;line-height:34.85px;">2</div>
<div class="c rd miss" style="left:776.50px;top:419.98px;width:34.80px;height:34.85px;line-height:34.85px;">2</div>
<div class="c re" style="left:813.30px;top:419.98px;width:43.70px;height:34.85px;line-height:34.85px;">12</div>
<div class="c re" style="left:859.00px;top:419.98px;width:52.20px;height:34.85px;line-height:34.85px;">2</div>
<div class="c re" style="left:913.20px;top:419.98px;width:43.80px;height:34.85px;line-height:34.85px;">7</div>
<div class="c re" style="left:959.00px;top:419.98px;width:87.00px;height:34.85px;line-height:34.85px;">小大大</div>
<div class="c re" style="left:1048.00px;top:419.98px;width:87.00px;height:34.85px;line-height:34.85px;">偶奇奇</div>
<div class="c re" style="left:1137.00px;top:419.98px;width:87.80px;height:34.85px;line-height:34.85px;">合质质</div>
<div class="c re" style="left:1226.80px;top:419.98px;width:69.60px;height:34.85px;line-height:34.85px;">2：1</div>
<div class="c re" style="left:1298.40px;top:419.98px;width:69.30px;height:34.85px;line-height:34.85px;">2：1</div>
<div class="c re" style="left:1369.70px;top:419.98px;width:70.00px;height:34.85px;line-height:34.85px;">2：1</div>
<div class="c re" style="left:1441.70px;top:419.98px;width:43.60px;height:34.85px;line-height:34.85px;"></div>
<div class="c re" style="left:1487.30px;top:419.98px;width:43.60px;height:34.85px;line-height:34.85px;">0</div>
<div class="c re" style="left:1532.90px;top:419.98px;width:90.80px;height:34.85px;line-height:34.85px;">1</div>
<div class="c re" style="left:1625.70px;top:419.98px;width:92.30px;height:34.85px;line-height:34.85px;">1</div>
<div class="c ro" style="left:7.00px;top:456.74px;width:52.00px;height:34.85px;line-height:34.85px;">11</div>
<div class="c ro" style="left:61.00px;top:456.74px;width:105.00px;height:34.85px;line-height:34.85px;">2012052</div>
<div class="c ro" style="left:168.00px;top:456.74px;width:69.50px;height:34.85px;line-height:34.85px;">249</div>
<div class="c ro" style="left:239.50px;top:456.74px;width:61.00px;height:34.85px;line-height:34.85px;">11</div>
<div class="c ro" style="left:302.50px;top:456.74px;width:69.50px;height:34.85px;line-height:34.85px;">707</div>
<div class="c rw" style="left:374.00px;top:456.74px;width:70.00px;height:34.85px;line-height:34.85px;">355</div>
<div class="c rd miss" style="left:446.00px;top:456.74px;width:34.50px;height:34.85px;line-height:34.85px;">1</div>
<div class="c rd miss" style="left:482.50px;top:456.74px;width:34.80px;height:34.85px;line-height:34.85px;">6</div>
<div class="c rd miss" style="left:519.30px;top:456.74px;width:35.10px;height:34.85px;line-height:34.85px;">11</div>
<div class="c rd" style="left:556.40px;top:456.74px;width:34.60px;height:34.85px;line-height:34.85px;"><span class="ball red"><b>3</b></span></div>
<div class="c rd miss" style="left:593.00px;top:456.74px;width:34.90px;height:34.85px;line-height:34.85px;">7</div>
<div class="c rd" style="left:629.90px;top:456.74px;width:34.70px;height:34.85px;line-height:34.85px;"><span class="ball gry"><b>5</b></span></div>
<div class="c rd miss" style="left:666.60px;top:456.74px;width:34.50px;height:34.85px;line-height:34.85px;">2</div>
<div class="c rd miss" style="left:703.10px;top:456.74px;width:34.80px;height:34.85px;line-height:34.85px;">1</div>
<div class="c rd miss" style="left:739.90px;top:456.74px;width:34.60px;height:34.85px;line-height:34.85px;">3</div>
<div class="c rd miss" style="left:776.50px;top:456.74px;width:34.80px;height:34.85px;line-height:34.85px;">3</div>
<div class="c ro" style="left:813.30px;top:456.74px;width:43.70px;height:34.85px;line-height:34.85px;">13</div>
<div class="c ro" style="left:859.00px;top:456.74px;width:52.20px;height:34.85px;line-height:34.85px;">3</div>
<div class="c ro" style="left:913.20px;top:456.74px;width:43.80px;height:34.85px;line-height:34.85px;">2</div>
<div class="c ro" style="left:959.00px;top:456.74px;width:87.00px;height:34.85px;line-height:34.85px;">小大大</div>
<div class="c ro" style="left:1048.00px;top:456.74px;width:87.00px;height:34.85px;line-height:34.85px;">奇奇奇</div>
<div class="c ro" style="left:1137.00px;top:456.74px;width:87.80px;height:34.85px;line-height:34.85px;">质质质</div>
<div class="c ro" style="left:1226.80px;top:456.74px;width:69.60px;height:34.85px;line-height:34.85px;">2：1</div>
<div class="c ro" style="left:1298.40px;top:456.74px;width:69.30px;height:34.85px;line-height:34.85px;">3：0</div>
<div class="c ro" style="left:1369.70px;top:456.74px;width:70.00px;height:34.85px;line-height:34.85px;">3：0</div>
<div class="c ro" style="left:1441.70px;top:456.74px;width:43.60px;height:34.85px;line-height:34.85px;"></div>
<div class="c ro" style="left:1487.30px;top:456.74px;width:43.60px;height:34.85px;line-height:34.85px;">2</div>
<div class="c ro" style="left:1532.90px;top:456.74px;width:90.80px;height:34.85px;line-height:34.85px;">0</div>
<div class="c ro" style="left:1625.70px;top:456.74px;width:92.30px;height:34.85px;line-height:34.85px;">0</div>
<div class="c re" style="left:7.00px;top:493.50px;width:52.00px;height:34.85px;line-height:34.85px;">12</div>
<div class="c re" style="left:61.00px;top:493.50px;width:105.00px;height:34.85px;line-height:34.85px;">2013052</div>
<div class="c re" style="left:168.00px;top:493.50px;width:69.50px;height:34.85px;line-height:34.85px;">951</div>
<div class="c re" style="left:239.50px;top:493.50px;width:61.00px;height:34.85px;line-height:34.85px;"></div>
<div class="c re" style="left:302.50px;top:493.50px;width:69.50px;height:34.85px;line-height:34.85px;">712</div>
<div class="c rw" style="left:374.00px;top:493.50px;width:70.00px;height:34.85px;line-height:34.85px;">556</div>
<div class="c rd miss" style="left:446.00px;top:493.50px;width:34.50px;height:34.85px;line-height:34.85px;">2</div>
<div class="c rd miss" style="left:482.50px;top:493.50px;width:34.80px;height:34.85px;line-height:34.85px;">7</div>
<div class="c rd miss" style="left:519.30px;top:493.50px;width:35.10px;height:34.85px;line-height:34.85px;">12</div>
<div class="c rd miss" style="left:556.40px;top:493.50px;width:34.60px;height:34.85px;line-height:34.85px;">1</div>
<div class="c rd miss" style="left:593.00px;top:493.50px;width:34.90px;height:34.85px;line-height:34.85px;">8</div>
<div class="c rd" style="left:629.90px;top:493.50px;width:34.70px;height:34.85px;line-height:34.85px;"><span class="ball gry"><b>5</b></span></div>
<div class="c rd" style="left:666.60px;top:493.50px;width:34.50px;height:34.85px;line-height:34.85px;"><span class="ball red"><b>6</b></span></div>
<div class="c rd miss" style="left:703.10px;top:493.50px;width:34.80px;height:34.85px;line-height:34.85px;">2</div>
<div class="c rd miss" style="left:739.90px;top:493.50px;width:34.60px;height:34.85px;line-height:34.85px;">4</div>
<div class="c rd miss" style="left:776.50px;top:493.50px;width:34.80px;height:34.85px;line-height:34.85px;">4</div>
<div class="c re" style="left:813.30px;top:493.50px;width:43.70px;height:34.85px;line-height:34.85px;">16</div>
<div class="c re" style="left:859.00px;top:493.50px;width:52.20px;height:34.85px;line-height:34.85px;">6</div>
<div class="c re" style="left:913.20px;top:493.50px;width:43.80px;height:34.85px;line-height:34.85px;">1</div>
<div class="c re" style="left:959.00px;top:493.50px;width:87.00px;height:34.85px;line-height:34.85px;">大大大</div>
<div class="c re" style="left:1048.00px;top:493.50px;width:87.00px;height:34.85px;line-height:34.85px;">奇奇偶</div>
<div class="c re" style="left:1137.00px;top:493.50px;width:87.80px;height:34.85px;line-height:34.85px;">质质合</div>
<div class="c re" style="left:1226.80px;top:493.50px;width:69.60px;height:34.85px;line-height:34.85px;">3：0</div>
<div class="c re" style="left:1298.40px;top:493.50px;width:69.30px;height:34.85px;line-height:34.85px;">2：1</div>
<div class="c re" style="left:1369.70px;top:493.50px;width:70.00px;height:34.85px;line-height:34.85px;">2：1</div>
<div class="c re" style="left:1441.70px;top:493.50px;width:43.60px;height:34.85px;line-height:34.85px;">56</div>
<div class="c re" style="left:1487.30px;top:493.50px;width:43.60px;height:34.85px;line-height:34.85px;">2</div>
<div class="c re" style="left:1532.90px;top:493.50px;width:90.80px;height:34.85px;line-height:34.85px;">1</div>
<div class="c re" style="left:1625.70px;top:493.50px;width:92.30px;height:34.85px;line-height:34.85px;">0</div>
<div class="c ro" style="left:7.00px;top:533.80px;width:52.00px;height:34.85px;line-height:34.85px;">13</div>
<div class="c ro" style="left:61.00px;top:533.80px;width:105.00px;height:34.85px;line-height:34.85px;">2014052</div>
<div class="c ro" style="left:168.00px;top:533.80px;width:69.50px;height:34.85px;line-height:34.85px;">210</div>
<div class="c ro" style="left:239.50px;top:533.80px;width:61.00px;height:34.85px;line-height:34.85px;"></div>
<div class="c ro" style="left:302.50px;top:533.80px;width:69.50px;height:34.85px;line-height:34.85px;">038</div>
<div class="c rw" style="left:374.00px;top:533.80px;width:70.00px;height:34.85px;line-height:34.85px;">793</div>
<div class="c rd miss" style="left:446.00px;top:533.80px;width:34.50px;height:34.85px;line-height:34.85px;">3</div>
<div class="c rd miss" style="left:482.50px;top:533.80px;width:34.80px;height:34.85px;line-height:34.85px;">8</div>
<div class="c rd miss" style="left:519.30px;top:533.80px;width:35.10px;height:34.85px;line-height:34.85px;">13</div>
<div class="c rd" style="left:556.40px;top:533.80px;width:34.60px;height:34.85px;line-height:34.85px;"><span class="ball red"><b>3</b></span></div>
<div class="c rd miss" style="left:593.00px;top:533.80px;width:34.90px;height:34.85px;line-height:34.85px;">9</div>
<div class="c rd miss" style="left:629.90px;top:533.80px;width:34.70px;height:34.85px;line-height:34.85px;">1</div>
<div class="c rd miss" style="left:666.60px;top:533.80px;width:34.50px;height:34.85px;line-height:34.85px;">1</div>
<div class="c rd" style="left:703.10px;top:533.80px;width:34.80px;height:34.85px;line-height:34.85px;"><span class="ball red"><b>7</b></span></div>
<div class="c rd miss" style="left:739.90px;top:533.80px;width:34.60px;height:34.85px;line-height:34.85px;">5</div>
<div class="c rd" style="left:776.50px;top:533.80px;width:34.80px;height:34.85px;line-height:34.85px;"><span class="ball red"><b>9</b></span></div>
<div class="c ro" style="left:813.30px;top:533.80px;width:43.70px;height:34.85px;line-height:34.85px;">19</div>
<div class="c ro" style="left:859.00px;top:533.80px;width:52.20px;height:34.85px;line-height:34.85px;">9</div>
<div class="c ro" style="left:913.20px;top:533.80px;width:43.80px;height:34.85px;line-height:34.85px;">6</div>
<div class="c ro" style="left:959.00px;top:533.80px;width:87.00px;height:34.85px;line-height:34.85px;">大大小</div>
<div class="c ro" style="left:1048.00px;top:533.80px;width:87.00px;height:34.85px;line-height:34.85px;">奇奇奇</div>
<div class="c ro" style="left:1137.00px;top:533.80px;width:87.80px;height:34.85px;line-height:34.85px;">质合质</div>
<div class="c ro" style="left:1226.80px;top:533.80px;width:69.60px;height:34.85px;line-height:34.85px;">2：1</div>
<div class="c ro" style="left:1298.40px;top:533.80px;width:69.30px;height:34.85px;line-height:34.85px;">3：0</div>
<div class="c ro" style="left:1369.70px;top:533.80px;width:70.00px;height:34.85px;line-height:34.85px;">2：1</div>
<div class="c ro" style="left:1441.70px;top:533.80px;width:43.60px;height:34.85px;line-height:34.85px;"></div>
<div class="c ro" style="left:1487.30px;top:533.80px;width:43.60px;height:34.85px;line-height:34.85px;">0</div>
<div class="c ro" style="left:1532.90px;top:533.80px;width:90.80px;height:34.85px;line-height:34.85px;">0</div>
<div class="c ro" style="left:1625.70px;top:533.80px;width:92.30px;height:34.85px;line-height:34.85px;">1</div>
<div class="c re" style="left:7.00px;top:570.56px;width:52.00px;height:34.85px;line-height:34.85px;">14</div>
<div class="c re" style="left:61.00px;top:570.56px;width:105.00px;height:34.85px;line-height:34.85px;">2015052</div>
<div class="c re" style="left:168.00px;top:570.56px;width:69.50px;height:34.85px;line-height:34.85px;">446</div>
<div class="c re" style="left:239.50px;top:570.56px;width:61.00px;height:34.85px;line-height:34.85px;"></div>
<div class="c re" style="left:302.50px;top:570.56px;width:69.50px;height:34.85px;line-height:34.85px;">401</div>
<div class="c rw" style="left:374.00px;top:570.56px;width:70.00px;height:34.85px;line-height:34.85px;">197</div>
<div class="c rd miss" style="left:446.00px;top:570.56px;width:34.50px;height:34.85px;line-height:34.85px;">4</div>
<div class="c rd" style="left:482.50px;top:570.56px;width:34.80px;height:34.85px;line-height:34.85px;"><span class="ball red"><b>1</b></span></div>
<div class="c rd miss" style="left:519.30px;top:570.56px;width:35.10px;height:34.85px;line-height:34.85px;">14</div>
<div class="c rd miss" style="left:556.40px;top:570.56px;width:34.60px;height:34.85px;line-height:34.85px;">1</div>
<div class="c rd miss" style="left:593.00px;top:570.56px;width:34.90px;height:34.85px;line-height:34.85px;">10</div>
<div class="c rd miss" style="left:629.90px;top:570.56px;width:34.70px;height:34.85px;line-height:34.85px;">2</div>
<div class="c rd miss" style="left:666.60px;top:570.56px;width:34.50px;height:34.85px;line-height:34.85px;">2</div>
<div class="c rd" style="left:703.10px;top:570.56px;width:34.80px;height:34.85px;line-height:34.85px;"><span class="ball red"><b>7</b></span></div>
<div class="c rd miss" style="left:739.90px;top:570.56px;width:34.60px;height:34.85px;line-height:34.85px;">6</div>
<div class="c rd" style="left:776.50px;top:570.56px;width:34.80px;height:34.85px;line-height:34.85px;"><span class="ball red"><b>9</b></span></div>
<div class="c re" style="left:813.30px;top:570.56px;width:43.70px;height:34.85px;line-height:34.85px;">17</div>
<div class="c re" style="left:859.00px;top:570.56px;width:52.20px;height:34.85px;line-height:34.85px;">7</div>
<div class="c re" style="left:913.20px;top:570.56px;width:43.80px;height:34.85px;line-height:34.85px;">8</div>
<div class="c re" style="left:959.00px;top:570.56px;width:87.00px;height:34.85px;line-height:34.85px;">小大大</div>
<div class="c re" style="left:1048.00px;top:570.56px;width:87.00px;height:34.85px;line-height:34.85px;">奇奇奇</div>
<div class="c re" style="left:1137.00px;top:570.56px;width:87.80px;height:34.85px;line-height:34.85px;">质合质</div>
<div class="c re" style="left:1226.80px;top:570.56px;width:69.60px;height:34.85px;line-height:34.85px;">2：1</div>
<div class="c re" style="left:1298.40px;top:570.56px;width:69.30px;height:34.85px;line-height:34.85px;">3：0</div>
<div class="c re" style="left:1369.70px;top:570.56px;width:70.00px;height:34.85px;line-height:34.85px;">2：1</div>
<div class="c re" style="left:1441.70px;top:570.56px;width:43.60px;height:34.85px;line-height:34.85px;"></div>
<div class="c re" style="left:1487.30px;top:570.56px;width:43.60px;height:34.85px;line-height:34.85px;">0</div>
<div class="c re" style="left:1532.90px;top:570.56px;width:90.80px;height:34.85px;line-height:34.85px;">0</div>
<div class="c re" style="left:1625.70px;top:570.56px;width:92.30px;height:34.85px;line-height:34.85px;">1</div>
<div class="c ro" style="left:7.00px;top:607.32px;width:52.00px;height:34.85px;line-height:34.85px;">15</div>
<div class="c ro" style="left:61.00px;top:607.32px;width:105.00px;height:34.85px;line-height:34.85px;">2016052</div>
<div class="c ro" style="left:168.00px;top:607.32px;width:69.50px;height:34.85px;line-height:34.85px;">863</div>
<div class="c ro" style="left:239.50px;top:607.32px;width:61.00px;height:34.85px;line-height:34.85px;"></div>
<div class="c ro" style="left:302.50px;top:607.32px;width:69.50px;height:34.85px;line-height:34.85px;">081</div>
<div class="c rw" style="left:374.00px;top:607.32px;width:70.00px;height:34.85px;line-height:34.85px;">641</div>
<div class="c rd miss" style="left:446.00px;top:607.32px;width:34.50px;height:34.85px;line-height:34.85px;">5</div>
<div class="c rd" style="left:482.50px;top:607.32px;width:34.80px;height:34.85px;line-height:34.85px;"><span class="ball red"><b>1</b></span></div>
<div class="c rd miss" style="left:519.30px;top:607.32px;width:35.10px;height:34.85px;line-height:34.85px;">15</div>
<div class="c rd miss" style="left:556.40px;top:607.32px;width:34.60px;height:34.85px;line-height:34.85px;">2</div>
<div class="c rd" style="left:593.00px;top:607.32px;width:34.90px;height:34.85px;line-height:34.85px;"><span class="ball red"><b>4</b></span></div>
<div class="c rd miss" style="left:629.90px;top:607.32px;width:34.70px;height:34.85px;line-height:34.85px;">3</div>
<div class="c rd" style="left:666.60px;top:607.32px;width:34.50px;height:34.85px;line-height:34.85px;"><span class="ball red"><b>6</b></span></div>
<div class="c rd miss" style="left:703.10px;top:607.32px;width:34.80px;height:34.85px;line-height:34.85px;">1</div>
<div class="c rd miss" style="left:739.90px;top:607.32px;width:34.60px;height:34.85px;line-height:34.85px;">7</div>
<div class="c rd miss" style="left:776.50px;top:607.32px;width:34.80px;height:34.85px;line-height:34.85px;">1</div>
<div class="c ro" style="left:813.30px;top:607.32px;width:43.70px;height:34.85px;line-height:34.85px;">11</div>
<div class="c ro" style="left:859.00px;top:607.32px;width:52.20px;height:34.85px;line-height:34.85px;">1</div>
<div class="c ro" style="left:913.20px;top:607.32px;width:43.80px;height:34.85px;line-height:34.85px;">5</div>
<div class="c ro" style="left:959.00px;top:607.32px;width:87.00px;height:34.85px;line-height:34.85px;">大小小</div>
<div class="c ro" style="left:1048.00px;top:607.32px;width:87.00px;height:34.85px;line-height:34.85px;">偶偶奇</div>
<div class="c ro" style="left:1137.00px;top:607.32px;width:87.80px;height:34.85px;line-height:34.85px;">合合质</div>
<div class="c ro" style="left:1226.80px;top:607.32px;width:69.60px;height:34.85px;line-height:34.85px;">1：2</div>
<div class="c ro" style="left:1298.40px;top:607.32px;width:69.30px;height:34.85px;line-height:34.85px;">1：2</div>
<div class="c ro" style="left:1369.70px;top:607.32px;width:70.00px;height:34.85px;line-height:34.85px;">1：2</div>
<div class="c ro" style="left:1441.70px;top:607.32px;width:43.60px;height:34.85px;line-height:34.85px;"></div>
<div class="c ro" style="left:1487.30px;top:607.32px;width:43.60px;height:34.85px;line-height:34.85px;">0</div>
<div class="c ro" style="left:1532.90px;top:607.32px;width:90.80px;height:34.85px;line-height:34.85px;">1</div>
<div class="c ro" style="left:1625.70px;top:607.32px;width:92.30px;height:34.85px;line-height:34.85px;">1</div>
<div class="c re" style="left:7.00px;top:644.08px;width:52.00px;height:34.85px;line-height:34.85px;">16</div>
<div class="c re" style="left:61.00px;top:644.08px;width:105.00px;height:34.85px;line-height:34.85px;">2017052</div>
<div class="c re" style="left:168.00px;top:644.08px;width:69.50px;height:34.85px;line-height:34.85px;">922</div>
<div class="c re" style="left:239.50px;top:644.08px;width:61.00px;height:34.85px;line-height:34.85px;"></div>
<div class="c re" style="left:302.50px;top:644.08px;width:69.50px;height:34.85px;line-height:34.85px;">889</div>
<div class="c rw" style="left:374.00px;top:644.08px;width:70.00px;height:34.85px;line-height:34.85px;">731</div>
<div class="c rd miss" style="left:446.00px;top:644.08px;width:34.50px;height:34.85px;line-height:34.85px;">6</div>
<div class="c rd" style="left:482.50px;top:644.08px;width:34.80px;height:34.85px;line-height:34.85px;"><span class="ball red"><b>1</b></span></div>
<div class="c rd miss" style="left:519.30px;top:644.08px;width:35.10px;height:34.85px;line-height:34.85px;">16</div>
<div class="c rd" style="left:556.40px;top:644.08px;width:34.60px;height:34.85px;line-height:34.85px;"><span class="ball red"><b>3</b></span></div>
<div class="c rd miss" style="left:593.00px;top:644.08px;width:34.90px;height:34.85px;line-height:34.85px;">1</div>
<div class="c rd miss" style="left:629.90px;top:644.08px;width:34.70px;height:34.85px;line-height:34.85px;">4</div>
<div class="c rd miss" style="left:666.60px;top:644.08px;width:34.50px;height:34.85px;line-height:34.85px;">1</div>
<div class="c rd" style="left:703.10px;top:644.08px;width:34.80px;height:34.85px;line-height:34.85px;"><span class="ball red"><b>7</b></span></div>
<div class="c rd miss" style="left:739.90px;top:644.08px;width:34.60px;height:34.85px;line-height:34.85px;">8</div>
<div class="c rd miss" style="left:776.50px;top:644.08px;width:34.80px;height:34.85px;line-height:34.85px;">2</div>
<div class="c re" style="left:813.30px;top:644.08px;width:43.70px;height:34.85px;line-height:34.85px;">11</div>
<div class="c re" style="left:859.00px;top:644.08px;width:52.20px;height:34.85px;line-height:34.85px;">1</div>
<div class="c re" style="left:913.20px;top:644.08px;width:43.80px;height:34.85px;line-height:34.85px;">6</div>
<div class="c re" style="left:959.00px;top:644.08px;width:87.00px;height:34.85px;line-height:34.85px;">大小小</div>
<div class="c re" style="left:1048.00px;top:644.08px;width:87.00px;height:34.85px;line-height:34.85px;">奇奇奇</div>
<div class="c re" style="left:1137.00px;top:644.08px;width:87.80px;height:34.85px;line-height:34.85px;">质质质</div>
<div class="c re" style="left:1226.80px;top:644.08px;width:69.60px;height:34.85px;line-height:34.85px;">1：2</div>
<div class="c re" style="left:1298.40px;top:644.08px;width:69.30px;height:34.85px;line-height:34.85px;">3：0</div>
<div class="c re" style="left:1369.70px;top:644.08px;width:70.00px;height:34.85px;line-height:34.85px;">3：0</div>
<div class="c re" style="left:1441.70px;top:644.08px;width:43.60px;height:34.85px;line-height:34.85px;"></div>
<div class="c re" style="left:1487.30px;top:644.08px;width:43.60px;height:34.85px;line-height:34.85px;">0</div>
<div class="c re" style="left:1532.90px;top:644.08px;width:90.80px;height:34.85px;line-height:34.85px;">0</div>
<div class="c re" style="left:1625.70px;top:644.08px;width:92.30px;height:34.85px;line-height:34.85px;">0</div>
<div class="c ro" style="left:7.00px;top:680.84px;width:52.00px;height:34.85px;line-height:34.85px;">17</div>
<div class="c ro" style="left:61.00px;top:680.84px;width:105.00px;height:34.85px;line-height:34.85px;">2018052</div>
<div class="c ro" style="left:168.00px;top:680.84px;width:69.50px;height:34.85px;line-height:34.85px;">783</div>
<div class="c ro" style="left:239.50px;top:680.84px;width:61.00px;height:34.85px;line-height:34.85px;"></div>
<div class="c ro" style="left:302.50px;top:680.84px;width:69.50px;height:34.85px;line-height:34.85px;">140</div>
<div class="c rw" style="left:374.00px;top:680.84px;width:70.00px;height:34.85px;line-height:34.85px;">369</div>
<div class="c rd miss" style="left:446.00px;top:680.84px;width:34.50px;height:34.85px;line-height:34.85px;">7</div>
<div class="c rd miss" style="left:482.50px;top:680.84px;width:34.80px;height:34.85px;line-height:34.85px;">1</div>
<div class="c rd miss" style="left:519.30px;top:680.84px;width:35.10px;height:34.85px;line-height:34.85px;">17</div>
<div class="c rd" style="left:556.40px;top:680.84px;width:34.60px;height:34.85px;line-height:34.85px;"><span class="ball red"><b>3</b></span></div>
<div class="c rd miss" style="left:593.00px;top:680.84px;width:34.90px;height:34.85px;line-height:34.85px;">2</div>
<div class="c rd miss" style="left:629.90px;top:680.84px;width:34.70px;height:34.85px;line-height:34.85px;">5</div>
<div class="c rd" style="left:666.60px;top:680.84px;width:34.50px;height:34.85px;line-height:34.85px;"><span class="ball red"><b>6</b></span></div>
<div class="c rd miss" style="left:703.10px;top:680.84px;width:34.80px;height:34.85px;line-height:34.85px;">1</div>
<div class="c rd miss" style="left:739.90px;top:680.84px;width:34.60px;height:34.85px;line-height:34.85px;">9</div>
<div class="c rd" style="left:776.50px;top:680.84px;width:34.80px;height:34.85px;line-height:34.85px;"><span class="ball red"><b>9</b></span></div>
<div class="c ro" style="left:813.30px;top:680.84px;width:43.70px;height:34.85px;line-height:34.85px;">18</div>
<div class="c ro" style="left:859.00px;top:680.84px;width:52.20px;height:34.85px;line-height:34.85px;">8</div>
<div class="c ro" style="left:913.20px;top:680.84px;width:43.80px;height:34.85px;line-height:34.85px;">6</div>
<div class="c ro" style="left:959.00px;top:680.84px;width:87.00px;height:34.85px;line-height:34.85px;">小大大</div>
<div class="c ro" style="left:1048.00px;top:680.84px;width:87.00px;height:34.85px;line-height:34.85px;">奇偶奇</div>
<div class="c ro" style="left:1137.00px;top:680.84px;width:87.80px;height:34.85px;line-height:34.85px;">质合合</div>
<div class="c ro" style="left:1226.80px;top:680.84px;width:69.60px;height:34.85px;line-height:34.85px;">2：1</div>
<div class="c ro" style="left:1298.40px;top:680.84px;width:69.30px;height:34.85px;line-height:34.85px;">2：1</div>
<div class="c ro" style="left:1369.70px;top:680.84px;width:70.00px;height:34.85px;line-height:34.85px;">1：2</div>
<div class="c ro" style="left:1441.70px;top:680.84px;width:43.60px;height:34.85px;line-height:34.85px;"></div>
<div class="c ro" style="left:1487.30px;top:680.84px;width:43.60px;height:34.85px;line-height:34.85px;">0</div>
<div class="c ro" style="left:1532.90px;top:680.84px;width:90.80px;height:34.85px;line-height:34.85px;">1</div>
<div class="c ro" style="left:1625.70px;top:680.84px;width:92.30px;height:34.85px;line-height:34.85px;">0</div>
<div class="c re" style="left:7.00px;top:717.60px;width:52.00px;height:34.85px;line-height:34.85px;">18</div>
<div class="c re" style="left:61.00px;top:717.60px;width:105.00px;height:34.85px;line-height:34.85px;">2019052</div>
<div class="c re" style="left:168.00px;top:717.60px;width:69.50px;height:34.85px;line-height:34.85px;">848</div>
<div class="c re" style="left:239.50px;top:717.60px;width:61.00px;height:34.85px;line-height:34.85px;"></div>
<div class="c re" style="left:302.50px;top:717.60px;width:69.50px;height:34.85px;line-height:34.85px;">464</div>
<div class="c rw" style="left:374.00px;top:717.60px;width:70.00px;height:34.85px;line-height:34.85px;">527</div>
<div class="c rd miss" style="left:446.00px;top:717.60px;width:34.50px;height:34.85px;line-height:34.85px;">8</div>
<div class="c rd miss" style="left:482.50px;top:717.60px;width:34.80px;height:34.85px;line-height:34.85px;">2</div>
<div class="c rd" style="left:519.30px;top:717.60px;width:35.10px;height:34.85px;line-height:34.85px;"><span class="ball red"><b>2</b></span></div>
<div class="c rd miss" style="left:556.40px;top:717.60px;width:34.60px;height:34.85px;line-height:34.85px;">1</div>
<div class="c rd miss" style="left:593.00px;top:717.60px;width:34.90px;height:34.85px;line-height:34.85px;">3</div>
<div class="c rd" style="left:629.90px;top:717.60px;width:34.70px;height:34.85px;line-height:34.85px;"><span class="ball red"><b>5</b></span></div>
<div class="c rd miss" style="left:666.60px;top:717.60px;width:34.50px;height:34.85px;line-height:34.85px;">1</div>
<div class="c rd" style="left:703.10px;top:717.60px;width:34.80px;height:34.85px;line-height:34.85px;"><span class="ball red"><b>7</b></span></div>
<div class="c rd miss" style="left:739.90px;top:717.60px;width:34.60px;height:34.85px;line-height:34.85px;">10</div>
<div class="c rd miss" style="left:776.50px;top:717.60px;width:34.80px;height:34.85px;line-height:34.85px;">1</div>
<div class="c re" style="left:813.30px;top:717.60px;width:43.70px;height:34.85px;line-height:34.85px;">14</div>
<div class="c re" style="left:859.00px;top:717.60px;width:52.20px;height:34.85px;line-height:34.85px;">4</div>
<div class="c re" style="left:913.20px;top:717.60px;width:43.80px;height:34.85px;line-height:34.85px;">5</div>
<div class="c re" style="left:959.00px;top:717.60px;width:87.00px;height:34.85px;line-height:34.85px;">大小大</div>
<div class="c re" style="left:1048.00px;top:717.60px;width:87.00px;height:34.85px;line-height:34.85px;">奇偶奇</div>
<div class="c re" style="left:1137.00px;top:717.60px;width:87.80px;height:34.85px;line-height:34.85px;">质质质</div>
<div class="c re" style="left:1226.80px;top:717.60px;width:69.60px;height:34.85px;line-height:34.85px;">2：1</div>
<div class="c re" style="left:1298.40px;top:717.60px;width:69.30px;height:34.85px;line-height:34.85px;">2：1</div>
<div class="c re" style="left:1369.70px;top:717.60px;width:70.00px;height:34.85px;line-height:34.85px;">3：0</div>
<div class="c re" style="left:1441.70px;top:717.60px;width:43.60px;height:34.85px;line-height:34.85px;"></div>
<div class="c re" style="left:1487.30px;top:717.60px;width:43.60px;height:34.85px;line-height:34.85px;">0</div>
<div class="c re" style="left:1532.90px;top:717.60px;width:90.80px;height:34.85px;line-height:34.85px;">0</div>
<div class="c re" style="left:1625.70px;top:717.60px;width:92.30px;height:34.85px;line-height:34.85px;">0</div>
<div class="c ro" style="left:7.00px;top:757.90px;width:52.00px;height:34.85px;line-height:34.85px;">19</div>
<div class="c ro" style="left:61.00px;top:757.90px;width:105.00px;height:34.85px;line-height:34.85px;">2020052</div>
<div class="c ro" style="left:168.00px;top:757.90px;width:69.50px;height:34.85px;line-height:34.85px;">481</div>
<div class="c ro" style="left:239.50px;top:757.90px;width:61.00px;height:34.85px;line-height:34.85px;"></div>
<div class="c ro" style="left:302.50px;top:757.90px;width:69.50px;height:34.85px;line-height:34.85px;">682</div>
<div class="c rw" style="left:374.00px;top:757.90px;width:70.00px;height:34.85px;line-height:34.85px;">503</div>
<div class="c rd" style="left:446.00px;top:757.90px;width:34.50px;height:34.85px;line-height:34.85px;"><span class="ball red"><b>0</b></span></div>
<div class="c rd miss" style="left:482.50px;top:757.90px;width:34.80px;height:34.85px;line-height:34.85px;">3</div>
<div class="c rd miss" style="left:519.30px;top:757.90px;width:35.10px;height:34.85px;line-height:34.85px;">1</div>
<div class="c rd" style="left:556.40px;top:757.90px;width:34.60px;height:34.85px;line-height:34.85px;"><span class="ball red"><b>3</b></span></div>
<div class="c rd miss" style="left:593.00px;top:757.90px;width:34.90px;height:34.85px;line-height:34.85px;">4</div>
<div class="c rd" style="left:629.90px;top:757.90px;width:34.70px;height:34.85px;line-height:34.85px;"><span class="ball red"><b>5</b></span></div>
<div class="c rd miss" style="left:666.60px;top:757.90px;width:34.50px;height:34.85px;line-height:34.85px;">2</div>
<div class="c rd miss" style="left:703.10px;top:757.90px;width:34.80px;height:34.85px;line-height:34.85px;">1</div>
<div class="c rd miss" style="left:739.90px;top:757.90px;width:34.60px;height:34.85px;line-height:34.85px;">11</div>
<div class="c rd miss" style="left:776.50px;top:757.90px;width:34.80px;height:34.85px;line-height:34.85px;">2</div>
<div class="c ro" style="left:813.30px;top:757.90px;width:43.70px;height:34.85px;line-height:34.85px;">8</div>
<div class="c ro" style="left:859.00px;top:757.90px;width:52.20px;height:34.85px;line-height:34.85px;">8</div>
<div class="c ro" style="left:913.20px;top:757.90px;width:43.80px;height:34.85px;line-height:34.85px;">5</div>
<div class="c ro" style="left:959.00px;top:757.90px;width:87.00px;height:34.85px;line-height:34.85px;">大小小</div>
<div class="c ro" style="left:1048.00px;top:757.90px;width:87.00px;height:34.85px;line-height:34.85px;">奇偶奇</div>
<div class="c ro" style="left:1137.00px;top:757.90px;width:87.80px;height:34.85px;line-height:34.85px;">质合质</div>
<div class="c ro" style="left:1226.80px;top:757.90px;width:69.60px;height:34.85px;line-height:34.85px;">1：2</div>
<div class="c ro" style="left:1298.40px;top:757.90px;width:69.30px;height:34.85px;line-height:34.85px;">2：1</div>
<div class="c ro" style="left:1369.70px;top:757.90px;width:70.00px;height:34.85px;line-height:34.85px;">2：1</div>
<div class="c ro" style="left:1441.70px;top:757.90px;width:43.60px;height:34.85px;line-height:34.85px;"></div>
<div class="c ro" style="left:1487.30px;top:757.90px;width:43.60px;height:34.85px;line-height:34.85px;">0</div>
<div class="c ro" style="left:1532.90px;top:757.90px;width:90.80px;height:34.85px;line-height:34.85px;">0</div>
<div class="c ro" style="left:1625.70px;top:757.90px;width:92.30px;height:34.85px;line-height:34.85px;">0</div>
<div class="c re" style="left:7.00px;top:794.66px;width:52.00px;height:34.85px;line-height:34.85px;">20</div>
<div class="c re" style="left:61.00px;top:794.66px;width:105.00px;height:34.85px;line-height:34.85px;">2021052</div>
<div class="c re" style="left:168.00px;top:794.66px;width:69.50px;height:34.85px;line-height:34.85px;">391</div>
<div class="c re" style="left:239.50px;top:794.66px;width:61.00px;height:34.85px;line-height:34.85px;"></div>
<div class="c re" style="left:302.50px;top:794.66px;width:69.50px;height:34.85px;line-height:34.85px;">310</div>
<div class="c rw" style="left:374.00px;top:794.66px;width:70.00px;height:34.85px;line-height:34.85px;">329</div>
<div class="c rd miss" style="left:446.00px;top:794.66px;width:34.50px;height:34.85px;line-height:34.85px;">1</div>
<div class="c rd miss" style="left:482.50px;top:794.66px;width:34.80px;height:34.85px;line-height:34.85px;">4</div>
<div class="c rd" style="left:519.30px;top:794.66px;width:35.10px;height:34.85px;line-height:34.85px;"><span class="ball red"><b>2</b></span></div>
<div class="c rd" style="left:556.40px;top:794.66px;width:34.60px;height:34.85px;line-height:34.85px;"><span class="ball red"><b>3</b></span></div>
<div class="c rd miss" style="left:593.00px;top:794.66px;width:34.90px;height:34.85px;line-height:34.85px;">5</div>
<div class="c rd miss" style="left:629.90px;top:794.66px;width:34.70px;height:34.85px;line-height:34.85px;">1</div>
<div class="c rd miss" style="left:666.60px;top:794.66px;width:34.50px;height:34.85px;line-height:34.85px;">3</div>
<div class="c rd miss" style="left:703.10px;top:794.66px;width:34.80px;height:34.85px;line-height:34.85px;">2</div>
<div class="c rd miss" style="left:739.90px;top:794.66px;width:34.60px;height:34.85px;line-height:34.85px;">12</div>
<div class="c rd" style="left:776.50px;top:794.66px;width:34.80px;height:34.85px;line-height:34.85px;"><span class="ball red"><b>9</b></span></div>
<div class="c re" style="left:813.30px;top:794.66px;width:43.70px;height:34.85px;line-height:34.85px;">14</div>
<div class="c re" style="left:859.00px;top:794.66px;width:52.20px;height:34.85px;line-height:34.85px;">4</div>
<div class="c re" style="left:913.20px;top:794.66px;width:43.80px;height:34.85px;line-height:34.85px;">7</div>
<div class="c re" style="left:959.00px;top:794.66px;width:87.00px;height:34.85px;line-height:34.85px;">小小大</div>
<div class="c re" style="left:1048.00px;top:794.66px;width:87.00px;height:34.85px;line-height:34.85px;">奇偶奇</div>
<div class="c re" style="left:1137.00px;top:794.66px;width:87.80px;height:34.85px;line-height:34.85px;">质质合</div>
<div class="c re" style="left:1226.80px;top:794.66px;width:69.60px;height:34.85px;line-height:34.85px;">1：2</div>
<div class="c re" style="left:1298.40px;top:794.66px;width:69.30px;height:34.85px;line-height:34.85px;">2：1</div>
<div class="c re" style="left:1369.70px;top:794.66px;width:70.00px;height:34.85px;line-height:34.85px;">2：1</div>
<div class="c re" style="left:1441.70px;top:794.66px;width:43.60px;height:34.85px;line-height:34.85px;">23</div>
<div class="c re" style="left:1487.30px;top:794.66px;width:43.60px;height:34.85px;line-height:34.85px;">0</div>
<div class="c re" style="left:1532.90px;top:794.66px;width:90.80px;height:34.85px;line-height:34.85px;">2</div>
<div class="c re" style="left:1625.70px;top:794.66px;width:92.30px;height:34.85px;line-height:34.85px;">1</div>
<div class="c ro" style="left:7.00px;top:831.42px;width:52.00px;height:34.85px;line-height:34.85px;">21</div>
<div class="c ro" style="left:61.00px;top:831.42px;width:105.00px;height:34.85px;line-height:34.85px;">2022052</div>
<div class="c ro" style="left:168.00px;top:831.42px;width:69.50px;height:34.85px;line-height:34.85px;">855</div>
<div class="c ro" style="left:239.50px;top:831.42px;width:61.00px;height:34.85px;line-height:34.85px;"></div>
<div class="c ro" style="left:302.50px;top:831.42px;width:69.50px;height:34.85px;line-height:34.85px;">919</div>
<div class="c rw" style="left:374.00px;top:831.42px;width:70.00px;height:34.85px;line-height:34.85px;">053</div>
<div class="c rd" style="left:446.00px;top:831.42px;width:34.50px;height:34.85px;line-height:34.85px;"><span class="ball red"><b>0</b></span></div>
<div class="c rd miss" style="left:482.50px;top:831.42px;width:34.80px;height:34.85px;line-height:34.85px;">5</div>
<div class="c rd miss" style="left:519.30px;top:831.42px;width:35.10px;height:34.85px;line-height:34.85px;">1</div>
<div class="c rd" style="left:556.40px;top:831.42px;width:34.60px;height:34.85px;line-height:34.85px;"><span class="ball red"><b>3</b></span></div>
<div class="c rd miss" style="left:593.00px;top:831.42px;width:34.90px;height:34.85px;line-height:34.85px;">6</div>
<div class="c rd" style="left:629.90px;top:831.42px;width:34.70px;height:34.85px;line-height:34.85px;"><span class="ball red"><b>5</b></span></div>
<div class="c rd miss" style="left:666.60px;top:831.42px;width:34.50px;height:34.85px;line-height:34.85px;">4</div>
<div class="c rd miss" style="left:703.10px;top:831.42px;width:34.80px;height:34.85px;line-height:34.85px;">3</div>
<div class="c rd miss" style="left:739.90px;top:831.42px;width:34.60px;height:34.85px;line-height:34.85px;">13</div>
<div class="c rd miss" style="left:776.50px;top:831.42px;width:34.80px;height:34.85px;line-height:34.85px;">1</div>
<div class="c ro" style="left:813.30px;top:831.42px;width:43.70px;height:34.85px;line-height:34.85px;">8</div>
<div class="c ro" style="left:859.00px;top:831.42px;width:52.20px;height:34.85px;line-height:34.85px;">8</div>
<div class="c ro" style="left:913.20px;top:831.42px;width:43.80px;height:34.85px;line-height:34.85px;">5</div>
<div class="c ro" style="left:959.00px;top:831.42px;width:87.00px;height:34.85px;line-height:34.85px;">小大小</div>
<div class="c ro" style="left:1048.00px;top:831.42px;width:87.00px;height:34.85px;line-height:34.85px;">偶奇奇</div>
<div class="c ro" style="left:1137.00px;top:831.42px;width:87.80px;height:34.85px;line-height:34.85px;">合质质</div>
<div class="c ro" style="left:1226.80px;top:831.42px;width:69.60px;height:34.85px;line-height:34.85px;">1：2</div>
<div class="c ro" style="left:1298.40px;top:831.42px;width:69.30px;height:34.85px;line-height:34.85px;">2：1</div>
<div class="c ro" style="left:1369.70px;top:831.42px;width:70.00px;height:34.85px;line-height:34.85px;">2：1</div>
<div class="c ro" style="left:1441.70px;top:831.42px;width:43.60px;height:34.85px;line-height:34.85px;"></div>
<div class="c ro" style="left:1487.30px;top:831.42px;width:43.60px;height:34.85px;line-height:34.85px;">0</div>
<div class="c ro" style="left:1532.90px;top:831.42px;width:90.80px;height:34.85px;line-height:34.85px;">2</div>
<div class="c ro" style="left:1625.70px;top:831.42px;width:92.30px;height:34.85px;line-height:34.85px;">0</div>
<div class="c re" style="left:7.00px;top:868.18px;width:52.00px;height:34.85px;line-height:34.85px;">22</div>
<div class="c re" style="left:61.00px;top:868.18px;width:105.00px;height:34.85px;line-height:34.85px;">2023052</div>
<div class="c re" style="left:168.00px;top:868.18px;width:69.50px;height:34.85px;line-height:34.85px;">257</div>
<div class="c re" style="left:239.50px;top:868.18px;width:61.00px;height:34.85px;line-height:34.85px;"></div>
<div class="c re" style="left:302.50px;top:868.18px;width:69.50px;height:34.85px;line-height:34.85px;">849</div>
<div class="c rw" style="left:374.00px;top:868.18px;width:70.00px;height:34.85px;line-height:34.85px;">150</div>
<div class="c rd" style="left:446.00px;top:868.18px;width:34.50px;height:34.85px;line-height:34.85px;"><span class="ball red"><b>0</b></span></div>
<div class="c rd" style="left:482.50px;top:868.18px;width:34.80px;height:34.85px;line-height:34.85px;"><span class="ball red"><b>1</b></span></div>
<div class="c rd miss" style="left:519.30px;top:868.18px;width:35.10px;height:34.85px;line-height:34.85px;">2</div>
<div class="c rd miss" style="left:556.40px;top:868.18px;width:34.60px;height:34.85px;line-height:34.85px;">1</div>
<div class="c rd miss" style="left:593.00px;top:868.18px;width:34.90px;height:34.85px;line-height:34.85px;">7</div>
<div class="c rd" style="left:629.90px;top:868.18px;width:34.70px;height:34.85px;line-height:34.85px;"><span class="ball red"><b>5</b></span></div>
<div class="c rd miss" style="left:666.60px;top:868.18px;width:34.50px;height:34.85px;line-height:34.85px;">5</div>
<div class="c rd miss" style="left:703.10px;top:868.18px;width:34.80px;height:34.85px;line-height:34.85px;">4</div>
<div class="c rd miss" style="left:739.90px;top:868.18px;width:34.60px;height:34.85px;line-height:34.85px;">14</div>
<div class="c rd miss" style="left:776.50px;top:868.18px;width:34.80px;height:34.85px;line-height:34.85px;">2</div>
<div class="c re" style="left:813.30px;top:868.18px;width:43.70px;height:34.85px;line-height:34.85px;">6</div>
<div class="c re" style="left:859.00px;top:868.18px;width:52.20px;height:34.85px;line-height:34.85px;">6</div>
<div class="c re" style="left:913.20px;top:868.18px;width:43.80px;height:34.85px;line-height:34.85px;">5</div>
<div class="c re" style="left:959.00px;top:868.18px;width:87.00px;height:34.85px;line-height:34.85px;">小大小</div>
<div class="c re" style="left:1048.00px;top:868.18px;width:87.00px;height:34.85px;line-height:34.85px;">奇奇偶</div>
<div class="c re" style="left:1137.00px;top:868.18px;width:87.80px;height:34.85px;line-height:34.85px;">质质合</div>
<div class="c re" style="left:1226.80px;top:868.18px;width:69.60px;height:34.85px;line-height:34.85px;">1：2</div>
<div class="c re" style="left:1298.40px;top:868.18px;width:69.30px;height:34.85px;line-height:34.85px;">2：1</div>
<div class="c re" style="left:1369.70px;top:868.18px;width:70.00px;height:34.85px;line-height:34.85px;">2：1</div>
<div class="c re" style="left:1441.70px;top:868.18px;width:43.60px;height:34.85px;line-height:34.85px;">01</div>
<div class="c re" style="left:1487.30px;top:868.18px;width:43.60px;height:34.85px;line-height:34.85px;">0</div>
<div class="c re" style="left:1532.90px;top:868.18px;width:90.80px;height:34.85px;line-height:34.85px;">1</div>
<div class="c re" style="left:1625.70px;top:868.18px;width:92.30px;height:34.85px;line-height:34.85px;">0</div>
<div class="c ro" style="left:7.00px;top:904.94px;width:52.00px;height:34.85px;line-height:34.85px;">23</div>
<div class="c ro" style="left:61.00px;top:904.94px;width:105.00px;height:34.85px;line-height:34.85px;">2024052</div>
<div class="c ro" style="left:168.00px;top:904.94px;width:69.50px;height:34.85px;line-height:34.85px;">142</div>
<div class="c ro" style="left:239.50px;top:904.94px;width:61.00px;height:34.85px;line-height:34.85px;"></div>
<div class="c ro" style="left:302.50px;top:904.94px;width:69.50px;height:34.85px;line-height:34.85px;">812</div>
<div class="c rw" style="left:374.00px;top:904.94px;width:70.00px;height:34.85px;line-height:34.85px;">310</div>
<div class="c rd" style="left:446.00px;top:904.94px;width:34.50px;height:34.85px;line-height:34.85px;"><span class="ball red"><b>0</b></span></div>
<div class="c rd" style="left:482.50px;top:904.94px;width:34.80px;height:34.85px;line-height:34.85px;"><span class="ball red"><b>1</b></span></div>
<div class="c rd miss" style="left:519.30px;top:904.94px;width:35.10px;height:34.85px;line-height:34.85px;">3</div>
<div class="c rd" style="left:556.40px;top:904.94px;width:34.60px;height:34.85px;line-height:34.85px;"><span class="ball red"><b>3</b></span></div>
<div class="c rd miss" style="left:593.00px;top:904.94px;width:34.90px;height:34.85px;line-height:34.85px;">8</div>
<div class="c rd miss" style="left:629.90px;top:904.94px;width:34.70px;height:34.85px;line-height:34.85px;">1</div>
<div class="c rd miss" style="left:666.60px;top:904.94px;width:34.50px;height:34.85px;line-height:34.85px;">6</div>
<div class="c rd miss" style="left:703.10px;top:904.94px;width:34.80px;height:34.85px;line-height:34.85px;">5</div>
<div class="c rd miss" style="left:739.90px;top:904.94px;width:34.60px;height:34.85px;line-height:34.85px;">15</div>
<div class="c rd miss" style="left:776.50px;top:904.94px;width:34.80px;height:34.85px;line-height:34.85px;">3</div>
<div class="c ro" style="left:813.30px;top:904.94px;width:43.70px;height:34.85px;line-height:34.85px;">4</div>
<div class="c ro" style="left:859.00px;top:904.94px;width:52.20px;height:34.85px;line-height:34.85px;">4</div>
<div class="c ro" style="left:913.20px;top:904.94px;width:43.80px;height:34.85px;line-height:34.85px;">3</div>
<div class="c ro" style="left:959.00px;top:904.94px;width:87.00px;height:34.85px;line-height:34.85px;">小小小</div>
<div class="c ro" style="left:1048.00px;top:904.94px;width:87.00px;height:34.85px;line-height:34.85px;">奇奇偶</div>
<div class="c ro" style="left:1137.00px;top:904.94px;width:87.80px;height:34.85px;line-height:34.85px;">质质合</div>
<div class="c ro" style="left:1226.80px;top:904.94px;width:69.60px;height:34.85px;line-height:34.85px;">0：3</div>
<div class="c ro" style="left:1298.40px;top:904.94px;width:69.30px;height:34.85px;line-height:34.85px;">2：1</div>
<div class="c ro" style="left:1369.70px;top:904.94px;width:70.00px;height:34.85px;line-height:34.85px;">2：1</div>
<div class="c ro" style="left:1441.70px;top:904.94px;width:43.60px;height:34.85px;line-height:34.85px;">01</div>
<div class="c ro" style="left:1487.30px;top:904.94px;width:43.60px;height:34.85px;line-height:34.85px;">0</div>
<div class="c ro" style="left:1532.90px;top:904.94px;width:90.80px;height:34.85px;line-height:34.85px;">1</div>
<div class="c ro" style="left:1625.70px;top:904.94px;width:92.30px;height:34.85px;line-height:34.85px;">1</div>
<div class="c re" style="left:7.00px;top:941.70px;width:52.00px;height:34.85px;line-height:34.85px;">24</div>
<div class="c re" style="left:61.00px;top:941.70px;width:105.00px;height:34.85px;line-height:34.85px;">2025052</div>
<div class="c re" style="left:168.00px;top:941.70px;width:69.50px;height:34.85px;line-height:34.85px;">583</div>
<div class="c re" style="left:239.50px;top:941.70px;width:61.00px;height:34.85px;line-height:34.85px;"></div>
<div class="c re" style="left:302.50px;top:941.70px;width:69.50px;height:34.85px;line-height:34.85px;">020</div>
<div class="c rw" style="left:374.00px;top:941.70px;width:70.00px;height:34.85px;line-height:34.85px;">585</div>
<div class="c rd miss" style="left:446.00px;top:941.70px;width:34.50px;height:34.85px;line-height:34.85px;">1</div>
<div class="c rd miss" style="left:482.50px;top:941.70px;width:34.80px;height:34.85px;line-height:34.85px;">1</div>
<div class="c rd miss" style="left:519.30px;top:941.70px;width:35.10px;height:34.85px;line-height:34.85px;">4</div>
<div class="c rd miss" style="left:556.40px;top:941.70px;width:34.60px;height:34.85px;line-height:34.85px;">1</div>
<div class="c rd miss" style="left:593.00px;top:941.70px;width:34.90px;height:34.85px;line-height:34.85px;">9</div>
<div class="c rd" style="left:629.90px;top:941.70px;width:34.70px;height:34.85px;line-height:34.85px;"><span class="ball gry"><b>5</b></span></div>
<div class="c rd miss" style="left:666.60px;top:941.70px;width:34.50px;height:34.85px;line-height:34.85px;">7</div>
<div class="c rd miss" style="left:703.10px;top:941.70px;width:34.80px;height:34.85px;line-height:34.85px;">6</div>
<div class="c rd" style="left:739.90px;top:941.70px;width:34.60px;height:34.85px;line-height:34.85px;"><span class="ball red"><b>8</b></span></div>
<div class="c rd miss" style="left:776.50px;top:941.70px;width:34.80px;height:34.85px;line-height:34.85px;">4</div>
<div class="c re" style="left:813.30px;top:941.70px;width:43.70px;height:34.85px;line-height:34.85px;">18</div>
<div class="c re" style="left:859.00px;top:941.70px;width:52.20px;height:34.85px;line-height:34.85px;">8</div>
<div class="c re" style="left:913.20px;top:941.70px;width:43.80px;height:34.85px;line-height:34.85px;">3</div>
<div class="c re" style="left:959.00px;top:941.70px;width:87.00px;height:34.85px;line-height:34.85px;">大大大</div>
<div class="c re" style="left:1048.00px;top:941.70px;width:87.00px;height:34.85px;line-height:34.85px;">奇偶奇</div>
<div class="c re" style="left:1137.00px;top:941.70px;width:87.80px;height:34.85px;line-height:34.85px;">质合质</div>
<div class="c re" style="left:1226.80px;top:941.70px;width:69.60px;height:34.85px;line-height:34.85px;">3：0</div>
<div class="c re" style="left:1298.40px;top:941.70px;width:69.30px;height:34.85px;line-height:34.85px;">2：1</div>
<div class="c re" style="left:1369.70px;top:941.70px;width:70.00px;height:34.85px;line-height:34.85px;">2：1</div>
<div class="c re" style="left:1441.70px;top:941.70px;width:43.60px;height:34.85px;line-height:34.85px;"></div>
<div class="c re" style="left:1487.30px;top:941.70px;width:43.60px;height:34.85px;line-height:34.85px;">2</div>
<div class="c re" style="left:1532.90px;top:941.70px;width:90.80px;height:34.85px;line-height:34.85px;">2</div>
<div class="c re" style="left:1625.70px;top:941.70px;width:92.30px;height:34.85px;line-height:34.85px;">0</div>
<div class="c ro" style="left:7.00px;top:978.30px;width:52.00px;height:34.70px;line-height:34.70px;"></div>
<div class="c ro" style="left:61.00px;top:978.30px;width:105.00px;height:34.70px;line-height:34.70px;"></div>
<div class="c ro" style="left:168.00px;top:978.30px;width:69.50px;height:34.70px;line-height:34.70px;"></div>
<div class="c ro" style="left:239.50px;top:978.30px;width:61.00px;height:34.70px;line-height:34.70px;"></div>
<div class="c ro" style="left:302.50px;top:978.30px;width:69.50px;height:34.70px;line-height:34.70px;"></div>
<div class="c rw" style="left:374.00px;top:978.30px;width:70.00px;height:34.70px;line-height:34.70px;"></div>
<div class="c eg" style="left:446.00px;top:978.30px;width:34.50px;height:34.70px;line-height:34.70px;"></div>
<div class="c eg" style="left:482.50px;top:978.30px;width:34.80px;height:34.70px;line-height:34.70px;"></div>
<div class="c eg" style="left:519.30px;top:978.30px;width:35.10px;height:34.70px;line-height:34.70px;"></div>
<div class="c eg" style="left:556.40px;top:978.30px;width:34.60px;height:34.70px;line-height:34.70px;"></div>
<div class="c eg" style="left:593.00px;top:978.30px;width:34.90px;height:34.70px;line-height:34.70px;"></div>
<div class="c eg" style="left:629.90px;top:978.30px;width:34.70px;height:34.70px;line-height:34.70px;"></div>
<div class="c eg" style="left:666.60px;top:978.30px;width:34.50px;height:34.70px;line-height:34.70px;"></div>
<div class="c eg" style="left:703.10px;top:978.30px;width:34.80px;height:34.70px;line-height:34.70px;"></div>
<div class="c eg" style="left:739.90px;top:978.30px;width:34.60px;height:34.70px;line-height:34.70px;"></div>
<div class="c eg" style="left:776.50px;top:978.30px;width:34.80px;height:34.70px;line-height:34.70px;"></div>
<div class="c lav" style="left:813.30px;top:978.30px;width:904.70px;height:34.70px;line-height:34.70px;"></div>
<div class="c eg" style="left:446.00px;top:1014.80px;width:34.50px;height:35.00px;line-height:35.00px;"></div>
<div class="c eg" style="left:482.50px;top:1014.80px;width:34.80px;height:35.00px;line-height:35.00px;"></div>
<div class="c eg" style="left:519.30px;top:1014.80px;width:35.10px;height:35.00px;line-height:35.00px;"></div>
<div class="c eg" style="left:556.40px;top:1014.80px;width:34.60px;height:35.00px;line-height:35.00px;"></div>
<div class="c eg" style="left:593.00px;top:1014.80px;width:34.90px;height:35.00px;line-height:35.00px;"></div>
<div class="c eg" style="left:629.90px;top:1014.80px;width:34.70px;height:35.00px;line-height:35.00px;"></div>
<div class="c eg" style="left:666.60px;top:1014.80px;width:34.50px;height:35.00px;line-height:35.00px;"></div>
<div class="c eg" style="left:703.10px;top:1014.80px;width:34.80px;height:35.00px;line-height:35.00px;"></div>
<div class="c eg" style="left:739.90px;top:1014.80px;width:34.60px;height:35.00px;line-height:35.00px;"></div>
<div class="c eg" style="left:776.50px;top:1014.80px;width:34.80px;height:35.00px;line-height:35.00px;"></div>
<div class="c lav" style="left:813.30px;top:1014.80px;width:904.70px;height:35.00px;line-height:35.00px;"></div>
<div class="c eg" style="left:446.00px;top:1052.00px;width:34.50px;height:33.80px;line-height:33.80px;"></div>
<div class="c eg" style="left:482.50px;top:1052.00px;width:34.80px;height:33.80px;line-height:33.80px;"></div>
<div class="c eg" style="left:519.30px;top:1052.00px;width:35.10px;height:33.80px;line-height:33.80px;"></div>
<div class="c eg" style="left:556.40px;top:1052.00px;width:34.60px;height:33.80px;line-height:33.80px;"></div>
<div class="c eg" style="left:593.00px;top:1052.00px;width:34.90px;height:33.80px;line-height:33.80px;"></div>
<div class="c eg" style="left:629.90px;top:1052.00px;width:34.70px;height:33.80px;line-height:33.80px;"></div>
<div class="c eg" style="left:666.60px;top:1052.00px;width:34.50px;height:33.80px;line-height:33.80px;"></div>
<div class="c eg" style="left:703.10px;top:1052.00px;width:34.80px;height:33.80px;line-height:33.80px;"></div>
<div class="c eg" style="left:739.90px;top:1052.00px;width:34.60px;height:33.80px;line-height:33.80px;"></div>
<div class="c eg" style="left:776.50px;top:1052.00px;width:34.80px;height:33.80px;line-height:33.80px;"></div>
<div class="c lav" style="left:813.30px;top:1052.00px;width:904.70px;height:33.80px;line-height:33.80px;"></div>
<div class="c rw pred" style="left:7.00px;top:1014.80px;width:437.00px;height:35.00px;line-height:35.00px;">预测行一</div>
<div class="c rw pred" style="left:7.00px;top:1052.00px;width:437.00px;height:33.80px;line-height:33.80px;padding-left:3.5px">预测行二</div>
<svg class="darr" width="15" height="13" viewBox="0 0 15 13" style="left:419.5px;top:1067px"><path d="M5.9 0 H9.3 V6.2 L14.6 5.4 L7.6 12.8 L0.4 5.4 L5.9 6.2 Z" fill="#c3380f"/></svg>
<div class="hbg" style="left:5px;top:1085.8px;width:1715px;height:75.7px"></div>
<div class="gline" style="left:5px;top:1085.8px;width:54px;height:75.7px"></div>
<div class="tline" style="left:5px;top:1085.8px;width:1715px;height:1px"></div>
<div class="hk" style="left:7.00px;top:1088.80px;width:52.00px;height:70.80px;line-height:70.80px;">序号</div>
<div class="hr" style="left:61.00px;top:1088.80px;width:105.00px;height:70.80px;line-height:70.80px;">期号</div>
<div class="hr" style="left:168.00px;top:1088.80px;width:69.50px;height:70.80px;line-height:70.80px;">开机号</div>
<div class="hr" style="left:239.50px;top:1088.80px;width:61.00px;height:70.80px;line-height:70.80px;">机球</div>
<div class="hr" style="left:302.50px;top:1088.80px;width:69.50px;height:70.80px;line-height:70.80px;">试机号</div>
<div class="hr" style="left:374.00px;top:1088.80px;width:70.00px;height:70.80px;line-height:70.80px;">奖号</div>
<div class="hr two" style="left:813.30px;top:1088.80px;width:43.70px;height:70.80px;"><span class="hl">和</span><span class="hl">值</span></div>
<div class="hr two" style="left:859.00px;top:1088.80px;width:52.20px;height:70.80px;"><span class="hl">和值</span><span class="hl">尾</span></div>
<div class="hr two" style="left:913.20px;top:1088.80px;width:43.80px;height:70.80px;"><span class="hl">跨</span><span class="hl">度</span></div>
<div class="hr" style="left:959.00px;top:1088.80px;width:87.00px;height:70.80px;line-height:70.80px;">大小</div>
<div class="hr" style="left:1048.00px;top:1088.80px;width:87.00px;height:70.80px;line-height:70.80px;">奇偶</div>
<div class="hr" style="left:1137.00px;top:1088.80px;width:87.80px;height:70.80px;line-height:70.80px;">质合</div>
<div class="hr two" style="left:1226.80px;top:1088.80px;width:69.60px;height:70.80px;"><span class="hl">大小</span><span class="hl">比</span></div>
<div class="hr two" style="left:1298.40px;top:1088.80px;width:69.30px;height:70.80px;"><span class="hl">奇偶</span><span class="hl">比</span></div>
<div class="hr two" style="left:1369.70px;top:1088.80px;width:70.00px;height:70.80px;"><span class="hl">质合</span><span class="hl">比</span></div>
<div class="hr two" style="left:1441.70px;top:1088.80px;width:43.60px;height:70.80px;"><span class="hl">连</span><span class="hl">号</span></div>
<div class="hr two" style="left:1487.30px;top:1088.80px;width:43.60px;height:70.80px;"><span class="hl">同号</span><span class="hl">个数</span></div>
<div class="hr two" style="left:1532.90px;top:1088.80px;width:90.80px;height:70.80px;"><span class="hl">开机下号</span><span class="hl">个数</span></div>
<div class="hr two" style="left:1625.70px;top:1088.80px;width:92.30px;height:70.80px;"><span class="hl">试机下号</span><span class="hl">个数</span></div>
<div class="hn" style="left:446.00px;top:1088.80px;width:34.50px;height:34.00px;line-height:34.00px;">0</div>
<div class="hn" style="left:482.50px;top:1088.80px;width:34.80px;height:34.00px;line-height:34.00px;">1</div>
<div class="hn" style="left:519.30px;top:1088.80px;width:35.10px;height:34.00px;line-height:34.00px;">2</div>
<div class="hn" style="left:556.40px;top:1088.80px;width:34.60px;height:34.00px;line-height:34.00px;">3</div>
<div class="hn" style="left:593.00px;top:1088.80px;width:34.90px;height:34.00px;line-height:34.00px;">4</div>
<div class="hn" style="left:629.90px;top:1088.80px;width:34.70px;height:34.00px;line-height:34.00px;">5</div>
<div class="hn" style="left:666.60px;top:1088.80px;width:34.50px;height:34.00px;line-height:34.00px;">6</div>
<div class="hn" style="left:703.10px;top:1088.80px;width:34.80px;height:34.00px;line-height:34.00px;">7</div>
<div class="hn" style="left:739.90px;top:1088.80px;width:34.60px;height:34.00px;line-height:34.00px;">8</div>
<div class="hn" style="left:776.50px;top:1088.80px;width:34.80px;height:34.00px;line-height:34.00px;">9</div>
<div class="hr hb" style="left:446.00px;top:1125.70px;width:365.30px;height:33.90px;line-height:33.90px;">号码走势图</div>
<div class="gbg" style="left:5px;top:1161.5px;width:1715px;height:6px"></div>
<div class="bot" style="left:7.00px;top:1161.50px;width:52.00px;height:6.50px;line-height:6.50px;"></div>
<div class="bot" style="left:61.00px;top:1161.50px;width:105.00px;height:6.50px;line-height:6.50px;"></div>
<div class="bot" style="left:168.00px;top:1161.50px;width:69.50px;height:6.50px;line-height:6.50px;"></div>
<div class="bot" style="left:239.50px;top:1161.50px;width:61.00px;height:6.50px;line-height:6.50px;"></div>
<div class="bot" style="left:302.50px;top:1161.50px;width:69.50px;height:6.50px;line-height:6.50px;"></div>
<div class="bot" style="left:374.00px;top:1161.50px;width:70.00px;height:6.50px;line-height:6.50px;"></div>
<div class="bot" style="left:446.00px;top:1161.50px;width:34.50px;height:6.50px;line-height:6.50px;"></div>
<div class="bot" style="left:482.50px;top:1161.50px;width:34.80px;height:6.50px;line-height:6.50px;"></div>
<div class="bot" style="left:519.30px;top:1161.50px;width:35.10px;height:6.50px;line-height:6.50px;"></div>
<div class="bot" style="left:556.40px;top:1161.50px;width:34.60px;height:6.50px;line-height:6.50px;"></div>
<div class="bot" style="left:593.00px;top:1161.50px;width:34.90px;height:6.50px;line-height:6.50px;"></div>
<div class="bot" style="left:629.90px;top:1161.50px;width:34.70px;height:6.50px;line-height:6.50px;"></div>
<div class="bot" style="left:666.60px;top:1161.50px;width:34.50px;height:6.50px;line-height:6.50px;"></div>
<div class="bot" style="left:703.10px;top:1161.50px;width:34.80px;height:6.50px;line-height:6.50px;"></div>
<div class="bot" style="left:739.90px;top:1161.50px;width:34.60px;height:6.50px;line-height:6.50px;"></div>
<div class="bot" style="left:776.50px;top:1161.50px;width:34.80px;height:6.50px;line-height:6.50px;"></div>
<div class="bot" style="left:813.30px;top:1161.50px;width:43.70px;height:6.50px;line-height:6.50px;"></div>
<div class="bot" style="left:859.00px;top:1161.50px;width:52.20px;height:6.50px;line-height:6.50px;"></div>
<div class="bot" style="left:913.20px;top:1161.50px;width:43.80px;height:6.50px;line-height:6.50px;"></div>
<div class="bot" style="left:959.00px;top:1161.50px;width:87.00px;height:6.50px;line-height:6.50px;"></div>
<div class="bot" style="left:1048.00px;top:1161.50px;width:87.00px;height:6.50px;line-height:6.50px;"></div>
<div class="bot" style="left:1137.00px;top:1161.50px;width:87.80px;height:6.50px;line-height:6.50px;"></div>
<div class="bot" style="left:1226.80px;top:1161.50px;width:69.60px;height:6.50px;line-height:6.50px;"></div>
<div class="bot" style="left:1298.40px;top:1161.50px;width:69.30px;height:6.50px;line-height:6.50px;"></div>
<div class="bot" style="left:1369.70px;top:1161.50px;width:70.00px;height:6.50px;line-height:6.50px;"></div>
<div class="bot" style="left:1441.70px;top:1161.50px;width:43.60px;height:6.50px;line-height:6.50px;"></div>
<div class="bot" style="left:1487.30px;top:1161.50px;width:43.60px;height:6.50px;line-height:6.50px;"></div>
<div class="bot" style="left:1532.90px;top:1161.50px;width:90.80px;height:6.50px;line-height:6.50px;"></div>
<div class="bot" style="left:1625.70px;top:1161.50px;width:92.30px;height:6.50px;line-height:6.50px;"></div>
<div class="wm"><i>8</i><i>0</i><i>0</i><i>8</i><i>2</i><i>0</i><i>.</i><i>N</i><i>E</i><i>T</i></div>
</body></html>
